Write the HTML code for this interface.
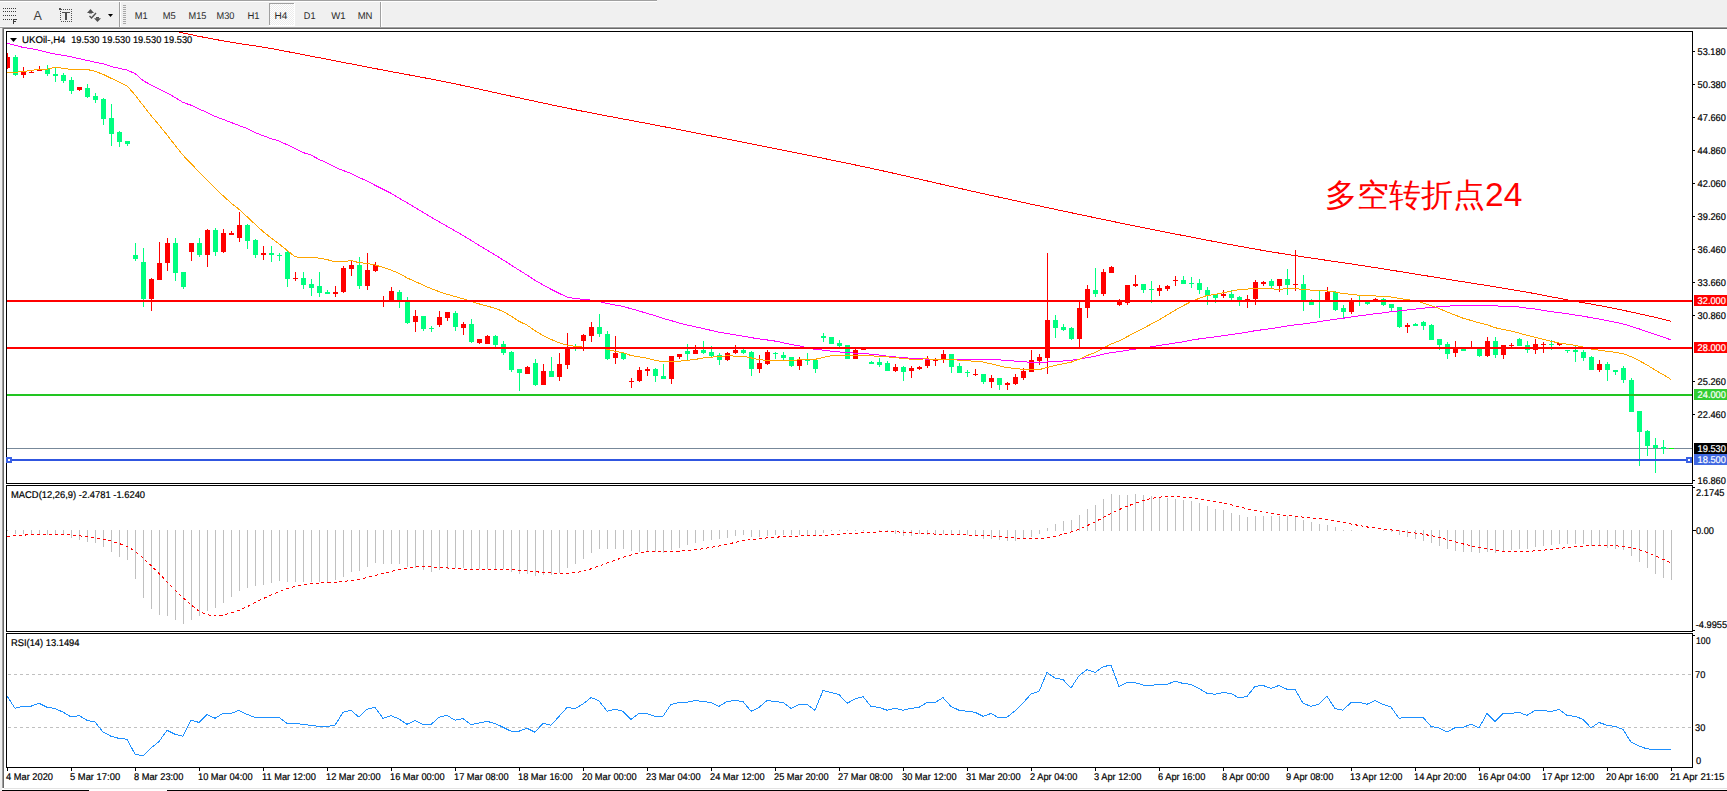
<!DOCTYPE html>
<html><head><meta charset="utf-8"><title>UKOil H4</title>
<style>
html,body{margin:0;padding:0;background:#fff;}
body{width:1727px;height:791px;overflow:hidden;}
svg{display:block;}
text{font-family:"Liberation Sans", Arial, sans-serif;}
</style></head><body>
<svg width="1727" height="791" viewBox="0 0 1727 791">
<rect x="0" y="0" width="1727" height="27" fill="#f0f0f0"/>
<rect x="0" y="0" width="657" height="1" fill="#a0a0a0"/>
<rect x="0" y="1" width="657" height="1" fill="#ffffff"/>
<rect x="0" y="26" width="1727" height="1" fill="#f8f8f8"/>
<rect x="0" y="27" width="1727" height="1" fill="#a0a0a0"/>
<rect x="0" y="28" width="2" height="763" fill="#f0f0f0"/>
<rect x="2" y="28" width="1" height="760" fill="#a0a0a0"/>
<rect x="3" y="28" width="1724" height="1" fill="#696969"/>
<rect x="3" y="29" width="1" height="759" fill="#696969"/>
<rect x="4" y="29" width="1723" height="759" fill="#ffffff"/>
<rect x="4" y="788" width="1723" height="1" fill="#e3e3e3"/>
<rect x="2" y="789" width="1725" height="1" fill="#ffffff"/>
<rect x="2" y="790" width="87" height="1" fill="#000"/>
<rect x="167" y="790" width="1560" height="1" fill="#000"/>
<rect x="3" y="8" width="1" height="1" fill="#3c3c3c"/>
<rect x="5" y="8" width="1" height="1" fill="#3c3c3c"/>
<rect x="7" y="8" width="1" height="1" fill="#3c3c3c"/>
<rect x="9" y="8" width="1" height="1" fill="#3c3c3c"/>
<rect x="11" y="8" width="1" height="1" fill="#3c3c3c"/>
<rect x="13" y="8" width="1" height="1" fill="#3c3c3c"/>
<rect x="15" y="8" width="1" height="1" fill="#3c3c3c"/>
<rect x="3" y="11" width="1" height="1" fill="#3c3c3c"/>
<rect x="5" y="11" width="1" height="1" fill="#3c3c3c"/>
<rect x="7" y="11" width="1" height="1" fill="#3c3c3c"/>
<rect x="9" y="11" width="1" height="1" fill="#3c3c3c"/>
<rect x="11" y="11" width="1" height="1" fill="#3c3c3c"/>
<rect x="13" y="11" width="1" height="1" fill="#3c3c3c"/>
<rect x="15" y="11" width="1" height="1" fill="#3c3c3c"/>
<rect x="3" y="15" width="1" height="1" fill="#3c3c3c"/>
<rect x="5" y="15" width="1" height="1" fill="#3c3c3c"/>
<rect x="7" y="15" width="1" height="1" fill="#3c3c3c"/>
<rect x="9" y="15" width="1" height="1" fill="#3c3c3c"/>
<rect x="11" y="15" width="1" height="1" fill="#3c3c3c"/>
<rect x="13" y="15" width="1" height="1" fill="#3c3c3c"/>
<rect x="15" y="15" width="1" height="1" fill="#3c3c3c"/>
<rect x="3" y="19" width="1" height="1" fill="#3c3c3c"/>
<rect x="5" y="19" width="1" height="1" fill="#3c3c3c"/>
<rect x="7" y="19" width="1" height="1" fill="#3c3c3c"/>
<rect x="9" y="19" width="1" height="1" fill="#3c3c3c"/>
<rect x="11" y="19" width="1" height="1" fill="#3c3c3c"/>
<rect x="13" y="19" width="1" height="5" fill="#3c3c3c"/>
<rect x="13" y="19" width="4" height="1" fill="#3c3c3c"/>
<rect x="13" y="21" width="3" height="1" fill="#3c3c3c"/>
<text x="33.6" y="20" font-size="12.5" fill="#3c3c3c" font-family="'Liberation Sans', Arial, sans-serif">A</text>
<rect x="61" y="9" width="1" height="1" fill="#505050"/>
<rect x="61" y="21" width="1" height="1" fill="#505050"/>
<rect x="63" y="9" width="1" height="1" fill="#505050"/>
<rect x="63" y="21" width="1" height="1" fill="#505050"/>
<rect x="65" y="9" width="1" height="1" fill="#505050"/>
<rect x="65" y="21" width="1" height="1" fill="#505050"/>
<rect x="67" y="9" width="1" height="1" fill="#505050"/>
<rect x="67" y="21" width="1" height="1" fill="#505050"/>
<rect x="69" y="9" width="1" height="1" fill="#505050"/>
<rect x="69" y="21" width="1" height="1" fill="#505050"/>
<rect x="71" y="9" width="1" height="1" fill="#505050"/>
<rect x="71" y="21" width="1" height="1" fill="#505050"/>
<rect x="60" y="11" width="1" height="1" fill="#505050"/>
<rect x="71" y="11" width="1" height="1" fill="#505050"/>
<rect x="60" y="13" width="1" height="1" fill="#505050"/>
<rect x="71" y="13" width="1" height="1" fill="#505050"/>
<rect x="60" y="15" width="1" height="1" fill="#505050"/>
<rect x="71" y="15" width="1" height="1" fill="#505050"/>
<rect x="60" y="17" width="1" height="1" fill="#505050"/>
<rect x="71" y="17" width="1" height="1" fill="#505050"/>
<rect x="60" y="19" width="1" height="1" fill="#505050"/>
<rect x="71" y="19" width="1" height="1" fill="#505050"/>
<rect x="59" y="8" width="2" height="2" fill="#505050"/>
<rect x="62" y="12" width="8" height="1" fill="#505050"/>
<rect x="65" y="12" width="2" height="8" fill="#505050"/>
<polygon points="87,13 90.5,9 94,13" fill="#505050"/>
<rect x="89" y="12" width="3" height="1.5" fill="#505050"/>
<polyline points="89.5,16 91.5,18 96,13" fill="none" stroke="#505050" stroke-width="1.4"/>
<rect x="96" y="17" width="3" height="1.5" fill="#505050"/>
<polygon points="94,18.3 101,18.3 97.5,22" fill="#505050"/>
<polygon points="108,14 113,14 110.5,17" fill="#000"/>
<rect x="119" y="2" width="1" height="25" fill="#a0a0a0"/>
<rect x="120" y="2" width="1" height="25" fill="#ffffff"/>
<rect x="380" y="2" width="1" height="25" fill="#a0a0a0"/>
<rect x="381" y="2" width="1" height="25" fill="#ffffff"/>
<rect x="123" y="5" width="3" height="1" fill="#a8a8a8"/>
<rect x="123" y="7" width="3" height="1" fill="#a8a8a8"/>
<rect x="123" y="9" width="3" height="1" fill="#a8a8a8"/>
<rect x="123" y="11" width="3" height="1" fill="#a8a8a8"/>
<rect x="123" y="13" width="3" height="1" fill="#a8a8a8"/>
<rect x="123" y="15" width="3" height="1" fill="#a8a8a8"/>
<rect x="123" y="17" width="3" height="1" fill="#a8a8a8"/>
<rect x="123" y="19" width="3" height="1" fill="#a8a8a8"/>
<rect x="123" y="21" width="3" height="1" fill="#a8a8a8"/>
<rect x="123" y="23" width="3" height="1" fill="#a8a8a8"/>
<defs><pattern id="chk" width="2" height="2" patternUnits="userSpaceOnUse"><rect width="2" height="2" fill="#ffffff"/><rect width="1" height="1" fill="#ececec"/><rect x="1" y="1" width="1" height="1" fill="#ececec"/></pattern></defs>
<rect x="270" y="4" width="24" height="21" fill="url(#chk)"/>
<rect x="269" y="3" width="1" height="22" fill="#a0a0a0"/>
<rect x="269" y="3" width="25" height="1" fill="#a0a0a0"/>
<rect x="294" y="3" width="1" height="23" fill="#ffffff"/>
<rect x="269" y="25" width="26" height="1" fill="#ffffff"/>
<text x="134.7" y="19" font-size="9.8" fill="#2a2a2a" textLength="12.9" lengthAdjust="spacingAndGlyphs" text-rendering="geometricPrecision" font-family="'Liberation Sans', Arial, sans-serif">M1</text>
<text x="162.7" y="19" font-size="9.8" fill="#2a2a2a" textLength="13.0" lengthAdjust="spacingAndGlyphs" text-rendering="geometricPrecision" font-family="'Liberation Sans', Arial, sans-serif">M5</text>
<text x="188.6" y="19" font-size="9.8" fill="#2a2a2a" textLength="17.9" lengthAdjust="spacingAndGlyphs" text-rendering="geometricPrecision" font-family="'Liberation Sans', Arial, sans-serif">M15</text>
<text x="216.6" y="19" font-size="9.8" fill="#2a2a2a" textLength="17.9" lengthAdjust="spacingAndGlyphs" text-rendering="geometricPrecision" font-family="'Liberation Sans', Arial, sans-serif">M30</text>
<text x="247.4" y="19" font-size="9.8" fill="#2a2a2a" textLength="12.1" lengthAdjust="spacingAndGlyphs" text-rendering="geometricPrecision" font-family="'Liberation Sans', Arial, sans-serif">H1</text>
<text x="274.5" y="19" font-size="9.8" fill="#2a2a2a" textLength="12.8" lengthAdjust="spacingAndGlyphs" text-rendering="geometricPrecision" font-family="'Liberation Sans', Arial, sans-serif">H4</text>
<text x="303.8" y="19" font-size="9.8" fill="#2a2a2a" textLength="11.7" lengthAdjust="spacingAndGlyphs" text-rendering="geometricPrecision" font-family="'Liberation Sans', Arial, sans-serif">D1</text>
<text x="331.3" y="19" font-size="9.8" fill="#2a2a2a" textLength="14.4" lengthAdjust="spacingAndGlyphs" text-rendering="geometricPrecision" font-family="'Liberation Sans', Arial, sans-serif">W1</text>
<text x="357.7" y="19" font-size="9.8" fill="#2a2a2a" textLength="14.8" lengthAdjust="spacingAndGlyphs" text-rendering="geometricPrecision" font-family="'Liberation Sans', Arial, sans-serif">MN</text>
<rect x="6.5" y="31.5" width="1686" height="452" fill="none" stroke="#000" stroke-width="1"/>
<rect x="6.5" y="485.5" width="1686" height="146" fill="none" stroke="#000" stroke-width="1"/>
<rect x="6.5" y="633.5" width="1686" height="134" fill="none" stroke="#000" stroke-width="1"/>
<defs><clipPath id="cm"><rect x="7" y="32" width="1685" height="451"/></clipPath><clipPath id="cd"><rect x="7" y="486" width="1685" height="145"/></clipPath><clipPath id="cr"><rect x="7" y="634" width="1685" height="133"/></clipPath></defs>
<rect x="7" y="448" width="1685" height="1" fill="#778899" shape-rendering="crispEdges"/>
<g clip-path="url(#cm)" shape-rendering="crispEdges">
<rect x="7" y="53" width="1" height="16" fill="#ff0000"/>
<rect x="5" y="57" width="5" height="11" fill="#ff0000"/>
<rect x="15" y="55" width="1" height="21" fill="#00ff7f"/>
<rect x="13" y="57" width="5" height="18" fill="#00ff7f"/>
<rect x="23" y="67" width="1" height="11" fill="#ff0000"/>
<rect x="21" y="72" width="5" height="3" fill="#ff0000"/>
<rect x="31" y="71" width="1" height="2" fill="#ff0000"/>
<rect x="29" y="72" width="5" height="1" fill="#ff0000"/>
<rect x="39" y="66" width="1" height="5" fill="#ff0000"/>
<rect x="37" y="70" width="5" height="1" fill="#ff0000"/>
<rect x="47" y="65" width="1" height="11" fill="#00ff7f"/>
<rect x="45" y="69" width="5" height="5" fill="#00ff7f"/>
<rect x="55" y="68" width="1" height="14" fill="#00ff7f"/>
<rect x="53" y="74" width="5" height="2" fill="#00ff7f"/>
<rect x="63" y="73" width="1" height="10" fill="#00ff7f"/>
<rect x="61" y="75" width="5" height="6" fill="#00ff7f"/>
<rect x="71" y="77" width="1" height="17" fill="#00ff7f"/>
<rect x="69" y="80" width="5" height="11" fill="#00ff7f"/>
<rect x="79" y="87" width="1" height="4" fill="#ff0000"/>
<rect x="77" y="87" width="5" height="3" fill="#ff0000"/>
<rect x="87" y="84" width="1" height="14" fill="#00ff7f"/>
<rect x="85" y="88" width="5" height="9" fill="#00ff7f"/>
<rect x="95" y="93" width="1" height="10" fill="#00ff7f"/>
<rect x="93" y="96" width="5" height="4" fill="#00ff7f"/>
<rect x="103" y="98" width="1" height="27" fill="#00ff7f"/>
<rect x="101" y="99" width="5" height="20" fill="#00ff7f"/>
<rect x="111" y="104" width="1" height="42" fill="#00ff7f"/>
<rect x="109" y="118" width="5" height="16" fill="#00ff7f"/>
<rect x="119" y="131" width="1" height="16" fill="#00ff7f"/>
<rect x="117" y="132" width="5" height="10" fill="#00ff7f"/>
<rect x="127" y="141" width="1" height="5" fill="#00ff7f"/>
<rect x="125" y="141" width="5" height="3" fill="#00ff7f"/>
<rect x="135" y="243" width="1" height="18" fill="#00ff7f"/>
<rect x="133" y="255" width="5" height="4" fill="#00ff7f"/>
<rect x="143" y="248" width="1" height="59" fill="#00ff7f"/>
<rect x="141" y="262" width="5" height="37" fill="#00ff7f"/>
<rect x="151" y="278" width="1" height="33" fill="#ff0000"/>
<rect x="149" y="279" width="5" height="20" fill="#ff0000"/>
<rect x="159" y="242" width="1" height="38" fill="#ff0000"/>
<rect x="157" y="263" width="5" height="17" fill="#ff0000"/>
<rect x="167" y="238" width="1" height="33" fill="#ff0000"/>
<rect x="165" y="243" width="5" height="20" fill="#ff0000"/>
<rect x="175" y="238" width="1" height="43" fill="#00ff7f"/>
<rect x="173" y="243" width="5" height="30" fill="#00ff7f"/>
<rect x="183" y="272" width="1" height="17" fill="#00ff7f"/>
<rect x="181" y="272" width="5" height="15" fill="#00ff7f"/>
<rect x="191" y="243" width="1" height="18" fill="#ff0000"/>
<rect x="189" y="243" width="5" height="9" fill="#ff0000"/>
<rect x="199" y="238" width="1" height="19" fill="#00ff7f"/>
<rect x="197" y="243" width="5" height="12" fill="#00ff7f"/>
<rect x="207" y="229" width="1" height="38" fill="#ff0000"/>
<rect x="205" y="230" width="5" height="25" fill="#ff0000"/>
<rect x="215" y="228" width="1" height="28" fill="#00ff7f"/>
<rect x="213" y="230" width="5" height="22" fill="#00ff7f"/>
<rect x="223" y="229" width="1" height="24" fill="#ff0000"/>
<rect x="221" y="233" width="5" height="19" fill="#ff0000"/>
<rect x="231" y="231" width="1" height="4" fill="#ff0000"/>
<rect x="229" y="233" width="5" height="2" fill="#ff0000"/>
<rect x="239" y="212" width="1" height="30" fill="#ff0000"/>
<rect x="237" y="225" width="5" height="13" fill="#ff0000"/>
<rect x="247" y="224" width="1" height="25" fill="#00ff7f"/>
<rect x="245" y="225" width="5" height="16" fill="#00ff7f"/>
<rect x="255" y="239" width="1" height="19" fill="#00ff7f"/>
<rect x="253" y="240" width="5" height="15" fill="#00ff7f"/>
<rect x="263" y="246" width="1" height="14" fill="#ff0000"/>
<rect x="261" y="253" width="5" height="2" fill="#ff0000"/>
<rect x="271" y="246" width="1" height="16" fill="#00ff7f"/>
<rect x="269" y="253" width="5" height="2" fill="#00ff7f"/>
<rect x="279" y="253" width="1" height="8" fill="#00ff7f"/>
<rect x="277" y="255" width="5" height="1" fill="#00ff7f"/>
<rect x="287" y="250" width="1" height="37" fill="#00ff7f"/>
<rect x="285" y="252" width="5" height="27" fill="#00ff7f"/>
<rect x="295" y="272" width="1" height="9" fill="#ff0000"/>
<rect x="293" y="278" width="5" height="1" fill="#ff0000"/>
<rect x="303" y="272" width="1" height="17" fill="#00ff7f"/>
<rect x="301" y="278" width="5" height="7" fill="#00ff7f"/>
<rect x="311" y="279" width="1" height="17" fill="#00ff7f"/>
<rect x="309" y="284" width="5" height="4" fill="#00ff7f"/>
<rect x="319" y="272" width="1" height="25" fill="#00ff7f"/>
<rect x="317" y="286" width="5" height="7" fill="#00ff7f"/>
<rect x="327" y="290" width="1" height="4" fill="#00ff7f"/>
<rect x="325" y="292" width="5" height="2" fill="#00ff7f"/>
<rect x="335" y="286" width="1" height="11" fill="#ff0000"/>
<rect x="333" y="292" width="5" height="2" fill="#ff0000"/>
<rect x="343" y="266" width="1" height="27" fill="#ff0000"/>
<rect x="341" y="268" width="5" height="24" fill="#ff0000"/>
<rect x="351" y="261" width="1" height="15" fill="#ff0000"/>
<rect x="349" y="265" width="5" height="4" fill="#ff0000"/>
<rect x="359" y="257" width="1" height="32" fill="#00ff7f"/>
<rect x="357" y="265" width="5" height="21" fill="#00ff7f"/>
<rect x="367" y="253" width="1" height="37" fill="#ff0000"/>
<rect x="365" y="270" width="5" height="16" fill="#ff0000"/>
<rect x="375" y="262" width="1" height="10" fill="#ff0000"/>
<rect x="373" y="265" width="5" height="6" fill="#ff0000"/>
<rect x="383" y="296" width="1" height="11" fill="#ff0000"/>
<rect x="381" y="300" width="5" height="2" fill="#ff0000"/>
<rect x="391" y="287" width="1" height="14" fill="#ff0000"/>
<rect x="389" y="291" width="5" height="10" fill="#ff0000"/>
<rect x="399" y="290" width="1" height="18" fill="#00ff7f"/>
<rect x="397" y="292" width="5" height="8" fill="#00ff7f"/>
<rect x="407" y="297" width="1" height="27" fill="#00ff7f"/>
<rect x="405" y="301" width="5" height="22" fill="#00ff7f"/>
<rect x="415" y="310" width="1" height="22" fill="#ff0000"/>
<rect x="413" y="316" width="5" height="6" fill="#ff0000"/>
<rect x="423" y="316" width="1" height="15" fill="#00ff7f"/>
<rect x="421" y="316" width="5" height="13" fill="#00ff7f"/>
<rect x="431" y="326" width="1" height="6" fill="#00ff7f"/>
<rect x="429" y="328" width="5" height="1" fill="#00ff7f"/>
<rect x="439" y="311" width="1" height="16" fill="#ff0000"/>
<rect x="437" y="317" width="5" height="8" fill="#ff0000"/>
<rect x="447" y="312" width="1" height="9" fill="#ff0000"/>
<rect x="445" y="312" width="5" height="6" fill="#ff0000"/>
<rect x="455" y="311" width="1" height="20" fill="#00ff7f"/>
<rect x="453" y="313" width="5" height="14" fill="#00ff7f"/>
<rect x="463" y="322" width="1" height="13" fill="#ff0000"/>
<rect x="461" y="324" width="5" height="4" fill="#ff0000"/>
<rect x="471" y="319" width="1" height="24" fill="#00ff7f"/>
<rect x="469" y="324" width="5" height="18" fill="#00ff7f"/>
<rect x="479" y="339" width="1" height="5" fill="#ff0000"/>
<rect x="477" y="339" width="5" height="4" fill="#ff0000"/>
<rect x="487" y="335" width="1" height="9" fill="#ff0000"/>
<rect x="485" y="336" width="5" height="8" fill="#ff0000"/>
<rect x="495" y="335" width="1" height="12" fill="#00ff7f"/>
<rect x="493" y="336" width="5" height="9" fill="#00ff7f"/>
<rect x="503" y="341" width="1" height="14" fill="#00ff7f"/>
<rect x="501" y="344" width="5" height="9" fill="#00ff7f"/>
<rect x="511" y="351" width="1" height="21" fill="#00ff7f"/>
<rect x="509" y="352" width="5" height="18" fill="#00ff7f"/>
<rect x="519" y="369" width="1" height="22" fill="#00ff7f"/>
<rect x="517" y="369" width="5" height="4" fill="#00ff7f"/>
<rect x="527" y="366" width="1" height="8" fill="#ff0000"/>
<rect x="525" y="367" width="5" height="7" fill="#ff0000"/>
<rect x="535" y="359" width="1" height="27" fill="#00ff7f"/>
<rect x="533" y="363" width="5" height="22" fill="#00ff7f"/>
<rect x="543" y="364" width="1" height="21" fill="#ff0000"/>
<rect x="541" y="371" width="5" height="14" fill="#ff0000"/>
<rect x="551" y="357" width="1" height="20" fill="#00ff7f"/>
<rect x="549" y="371" width="5" height="6" fill="#00ff7f"/>
<rect x="559" y="353" width="1" height="28" fill="#ff0000"/>
<rect x="557" y="364" width="5" height="13" fill="#ff0000"/>
<rect x="567" y="333" width="1" height="36" fill="#ff0000"/>
<rect x="565" y="347" width="5" height="18" fill="#ff0000"/>
<rect x="575" y="344" width="1" height="7" fill="#00ff7f"/>
<rect x="573" y="346" width="5" height="2" fill="#00ff7f"/>
<rect x="583" y="334" width="1" height="17" fill="#ff0000"/>
<rect x="581" y="335" width="5" height="6" fill="#ff0000"/>
<rect x="591" y="322" width="1" height="20" fill="#ff0000"/>
<rect x="589" y="327" width="5" height="9" fill="#ff0000"/>
<rect x="599" y="314" width="1" height="23" fill="#00ff7f"/>
<rect x="597" y="327" width="5" height="7" fill="#00ff7f"/>
<rect x="607" y="331" width="1" height="29" fill="#00ff7f"/>
<rect x="605" y="334" width="5" height="25" fill="#00ff7f"/>
<rect x="615" y="336" width="1" height="28" fill="#ff0000"/>
<rect x="613" y="353" width="5" height="5" fill="#ff0000"/>
<rect x="623" y="352" width="1" height="8" fill="#00ff7f"/>
<rect x="621" y="353" width="5" height="6" fill="#00ff7f"/>
<rect x="631" y="378" width="1" height="10" fill="#ff0000"/>
<rect x="629" y="381" width="5" height="1" fill="#ff0000"/>
<rect x="639" y="367" width="1" height="15" fill="#ff0000"/>
<rect x="637" y="370" width="5" height="11" fill="#ff0000"/>
<rect x="647" y="367" width="1" height="9" fill="#ff0000"/>
<rect x="645" y="369" width="5" height="2" fill="#ff0000"/>
<rect x="655" y="368" width="1" height="14" fill="#00ff7f"/>
<rect x="653" y="369" width="5" height="7" fill="#00ff7f"/>
<rect x="663" y="364" width="1" height="15" fill="#00ff7f"/>
<rect x="661" y="376" width="5" height="3" fill="#00ff7f"/>
<rect x="671" y="356" width="1" height="28" fill="#ff0000"/>
<rect x="669" y="356" width="5" height="23" fill="#ff0000"/>
<rect x="679" y="354" width="1" height="5" fill="#ff0000"/>
<rect x="677" y="354" width="5" height="3" fill="#ff0000"/>
<rect x="687" y="344" width="1" height="16" fill="#00ff7f"/>
<rect x="685" y="351" width="5" height="3" fill="#00ff7f"/>
<rect x="695" y="345" width="1" height="9" fill="#ff0000"/>
<rect x="693" y="350" width="5" height="4" fill="#ff0000"/>
<rect x="703" y="341" width="1" height="13" fill="#00ff7f"/>
<rect x="701" y="350" width="5" height="3" fill="#00ff7f"/>
<rect x="711" y="346" width="1" height="11" fill="#00ff7f"/>
<rect x="709" y="352" width="5" height="4" fill="#00ff7f"/>
<rect x="719" y="353" width="1" height="12" fill="#00ff7f"/>
<rect x="717" y="355" width="5" height="5" fill="#00ff7f"/>
<rect x="727" y="352" width="1" height="9" fill="#ff0000"/>
<rect x="725" y="353" width="5" height="7" fill="#ff0000"/>
<rect x="735" y="345" width="1" height="9" fill="#ff0000"/>
<rect x="733" y="350" width="5" height="3" fill="#ff0000"/>
<rect x="743" y="349" width="1" height="5" fill="#00ff7f"/>
<rect x="741" y="350" width="5" height="3" fill="#00ff7f"/>
<rect x="751" y="351" width="1" height="25" fill="#00ff7f"/>
<rect x="749" y="352" width="5" height="17" fill="#00ff7f"/>
<rect x="759" y="355" width="1" height="18" fill="#ff0000"/>
<rect x="757" y="363" width="5" height="6" fill="#ff0000"/>
<rect x="767" y="350" width="1" height="15" fill="#ff0000"/>
<rect x="765" y="352" width="5" height="12" fill="#ff0000"/>
<rect x="775" y="352" width="1" height="7" fill="#00ff7f"/>
<rect x="773" y="353" width="5" height="1" fill="#00ff7f"/>
<rect x="783" y="352" width="1" height="8" fill="#00ff7f"/>
<rect x="781" y="355" width="5" height="3" fill="#00ff7f"/>
<rect x="791" y="357" width="1" height="10" fill="#00ff7f"/>
<rect x="789" y="357" width="5" height="9" fill="#00ff7f"/>
<rect x="799" y="357" width="1" height="13" fill="#ff0000"/>
<rect x="797" y="360" width="5" height="6" fill="#ff0000"/>
<rect x="807" y="353" width="1" height="12" fill="#00ff7f"/>
<rect x="805" y="360" width="5" height="1" fill="#00ff7f"/>
<rect x="815" y="360" width="1" height="13" fill="#00ff7f"/>
<rect x="813" y="360" width="5" height="9" fill="#00ff7f"/>
<rect x="823" y="333" width="1" height="9" fill="#00ff7f"/>
<rect x="821" y="336" width="5" height="2" fill="#00ff7f"/>
<rect x="831" y="337" width="1" height="7" fill="#00ff7f"/>
<rect x="829" y="337" width="5" height="7" fill="#00ff7f"/>
<rect x="839" y="340" width="1" height="7" fill="#00ff7f"/>
<rect x="837" y="343" width="5" height="3" fill="#00ff7f"/>
<rect x="847" y="345" width="1" height="14" fill="#00ff7f"/>
<rect x="845" y="345" width="5" height="14" fill="#00ff7f"/>
<rect x="855" y="349" width="1" height="10" fill="#ff0000"/>
<rect x="853" y="350" width="5" height="9" fill="#ff0000"/>
<rect x="863" y="348" width="1" height="2" fill="#ff0000"/>
<rect x="861" y="348" width="5" height="2" fill="#ff0000"/>
<rect x="871" y="361" width="1" height="3" fill="#00ff7f"/>
<rect x="869" y="362" width="5" height="2" fill="#00ff7f"/>
<rect x="879" y="358" width="1" height="9" fill="#00ff7f"/>
<rect x="877" y="362" width="5" height="3" fill="#00ff7f"/>
<rect x="887" y="361" width="1" height="10" fill="#00ff7f"/>
<rect x="885" y="363" width="5" height="8" fill="#00ff7f"/>
<rect x="895" y="364" width="1" height="8" fill="#ff0000"/>
<rect x="893" y="367" width="5" height="4" fill="#ff0000"/>
<rect x="903" y="366" width="1" height="15" fill="#00ff7f"/>
<rect x="901" y="367" width="5" height="5" fill="#00ff7f"/>
<rect x="911" y="366" width="1" height="12" fill="#ff0000"/>
<rect x="909" y="368" width="5" height="3" fill="#ff0000"/>
<rect x="919" y="366" width="1" height="4" fill="#ff0000"/>
<rect x="917" y="367" width="5" height="2" fill="#ff0000"/>
<rect x="927" y="356" width="1" height="12" fill="#ff0000"/>
<rect x="925" y="359" width="5" height="7" fill="#ff0000"/>
<rect x="935" y="358" width="1" height="8" fill="#ff0000"/>
<rect x="933" y="360" width="5" height="1" fill="#ff0000"/>
<rect x="943" y="350" width="1" height="13" fill="#ff0000"/>
<rect x="941" y="354" width="5" height="6" fill="#ff0000"/>
<rect x="951" y="354" width="1" height="19" fill="#00ff7f"/>
<rect x="949" y="354" width="5" height="13" fill="#00ff7f"/>
<rect x="959" y="363" width="1" height="10" fill="#00ff7f"/>
<rect x="957" y="366" width="5" height="7" fill="#00ff7f"/>
<rect x="967" y="370" width="1" height="7" fill="#00ff7f"/>
<rect x="965" y="372" width="5" height="1" fill="#00ff7f"/>
<rect x="975" y="369" width="1" height="7" fill="#ff0000"/>
<rect x="973" y="374" width="5" height="1" fill="#ff0000"/>
<rect x="983" y="374" width="1" height="10" fill="#00ff7f"/>
<rect x="981" y="374" width="5" height="8" fill="#00ff7f"/>
<rect x="991" y="375" width="1" height="13" fill="#ff0000"/>
<rect x="989" y="378" width="5" height="4" fill="#ff0000"/>
<rect x="999" y="378" width="1" height="12" fill="#00ff7f"/>
<rect x="997" y="378" width="5" height="7" fill="#00ff7f"/>
<rect x="1007" y="382" width="1" height="8" fill="#ff0000"/>
<rect x="1005" y="383" width="5" height="2" fill="#ff0000"/>
<rect x="1015" y="374" width="1" height="11" fill="#ff0000"/>
<rect x="1013" y="377" width="5" height="7" fill="#ff0000"/>
<rect x="1023" y="368" width="1" height="12" fill="#ff0000"/>
<rect x="1021" y="371" width="5" height="7" fill="#ff0000"/>
<rect x="1031" y="350" width="1" height="22" fill="#ff0000"/>
<rect x="1029" y="360" width="5" height="12" fill="#ff0000"/>
<rect x="1039" y="354" width="1" height="11" fill="#ff0000"/>
<rect x="1037" y="357" width="5" height="4" fill="#ff0000"/>
<rect x="1047" y="253" width="1" height="121" fill="#ff0000"/>
<rect x="1045" y="320" width="5" height="38" fill="#ff0000"/>
<rect x="1055" y="315" width="1" height="23" fill="#00ff7f"/>
<rect x="1053" y="320" width="5" height="8" fill="#00ff7f"/>
<rect x="1063" y="324" width="1" height="7" fill="#00ff7f"/>
<rect x="1061" y="327" width="5" height="3" fill="#00ff7f"/>
<rect x="1071" y="327" width="1" height="13" fill="#00ff7f"/>
<rect x="1069" y="328" width="5" height="11" fill="#00ff7f"/>
<rect x="1079" y="302" width="1" height="45" fill="#ff0000"/>
<rect x="1077" y="308" width="5" height="31" fill="#ff0000"/>
<rect x="1087" y="285" width="1" height="33" fill="#ff0000"/>
<rect x="1085" y="289" width="5" height="19" fill="#ff0000"/>
<rect x="1095" y="268" width="1" height="29" fill="#00ff7f"/>
<rect x="1093" y="290" width="5" height="4" fill="#00ff7f"/>
<rect x="1103" y="269" width="1" height="27" fill="#ff0000"/>
<rect x="1101" y="272" width="5" height="22" fill="#ff0000"/>
<rect x="1111" y="266" width="1" height="7" fill="#ff0000"/>
<rect x="1109" y="267" width="5" height="6" fill="#ff0000"/>
<rect x="1119" y="299" width="1" height="7" fill="#ff0000"/>
<rect x="1117" y="300" width="5" height="5" fill="#ff0000"/>
<rect x="1127" y="285" width="1" height="20" fill="#ff0000"/>
<rect x="1125" y="285" width="5" height="18" fill="#ff0000"/>
<rect x="1135" y="275" width="1" height="12" fill="#ff0000"/>
<rect x="1133" y="284" width="5" height="2" fill="#ff0000"/>
<rect x="1143" y="284" width="1" height="9" fill="#00ff7f"/>
<rect x="1141" y="284" width="5" height="6" fill="#00ff7f"/>
<rect x="1151" y="281" width="1" height="22" fill="#00ff7f"/>
<rect x="1149" y="289" width="5" height="1" fill="#00ff7f"/>
<rect x="1159" y="285" width="1" height="11" fill="#ff0000"/>
<rect x="1157" y="288" width="5" height="3" fill="#ff0000"/>
<rect x="1167" y="285" width="1" height="6" fill="#ff0000"/>
<rect x="1165" y="286" width="5" height="3" fill="#ff0000"/>
<rect x="1175" y="276" width="1" height="10" fill="#ff0000"/>
<rect x="1173" y="280" width="5" height="1" fill="#ff0000"/>
<rect x="1183" y="276" width="1" height="8" fill="#00ff7f"/>
<rect x="1181" y="280" width="5" height="4" fill="#00ff7f"/>
<rect x="1191" y="277" width="1" height="11" fill="#00ff7f"/>
<rect x="1189" y="283" width="5" height="1" fill="#00ff7f"/>
<rect x="1199" y="279" width="1" height="15" fill="#00ff7f"/>
<rect x="1197" y="283" width="5" height="7" fill="#00ff7f"/>
<rect x="1207" y="287" width="1" height="18" fill="#00ff7f"/>
<rect x="1205" y="290" width="5" height="6" fill="#00ff7f"/>
<rect x="1215" y="294" width="1" height="9" fill="#00ff7f"/>
<rect x="1213" y="294" width="5" height="4" fill="#00ff7f"/>
<rect x="1223" y="290" width="1" height="8" fill="#ff0000"/>
<rect x="1221" y="294" width="5" height="2" fill="#ff0000"/>
<rect x="1231" y="290" width="1" height="10" fill="#00ff7f"/>
<rect x="1229" y="294" width="5" height="4" fill="#00ff7f"/>
<rect x="1239" y="296" width="1" height="10" fill="#00ff7f"/>
<rect x="1237" y="297" width="5" height="3" fill="#00ff7f"/>
<rect x="1247" y="295" width="1" height="13" fill="#ff0000"/>
<rect x="1245" y="299" width="5" height="2" fill="#ff0000"/>
<rect x="1255" y="280" width="1" height="25" fill="#ff0000"/>
<rect x="1253" y="282" width="5" height="17" fill="#ff0000"/>
<rect x="1263" y="281" width="1" height="5" fill="#ff0000"/>
<rect x="1261" y="282" width="5" height="2" fill="#ff0000"/>
<rect x="1271" y="279" width="1" height="9" fill="#00ff7f"/>
<rect x="1269" y="281" width="5" height="5" fill="#00ff7f"/>
<rect x="1279" y="279" width="1" height="13" fill="#ff0000"/>
<rect x="1277" y="279" width="5" height="7" fill="#ff0000"/>
<rect x="1287" y="269" width="1" height="26" fill="#00ff7f"/>
<rect x="1285" y="279" width="5" height="6" fill="#00ff7f"/>
<rect x="1295" y="250" width="1" height="41" fill="#ff0000"/>
<rect x="1293" y="284" width="5" height="1" fill="#ff0000"/>
<rect x="1303" y="275" width="1" height="36" fill="#00ff7f"/>
<rect x="1301" y="284" width="5" height="16" fill="#00ff7f"/>
<rect x="1311" y="299" width="1" height="6" fill="#00ff7f"/>
<rect x="1309" y="301" width="5" height="4" fill="#00ff7f"/>
<rect x="1319" y="291" width="1" height="27" fill="#00ff7f"/>
<rect x="1317" y="300" width="5" height="2" fill="#00ff7f"/>
<rect x="1327" y="287" width="1" height="14" fill="#ff0000"/>
<rect x="1325" y="292" width="5" height="9" fill="#ff0000"/>
<rect x="1335" y="291" width="1" height="20" fill="#00ff7f"/>
<rect x="1333" y="292" width="5" height="18" fill="#00ff7f"/>
<rect x="1343" y="305" width="1" height="13" fill="#00ff7f"/>
<rect x="1341" y="308" width="5" height="4" fill="#00ff7f"/>
<rect x="1351" y="298" width="1" height="16" fill="#ff0000"/>
<rect x="1349" y="302" width="5" height="10" fill="#ff0000"/>
<rect x="1359" y="296" width="1" height="10" fill="#00ff7f"/>
<rect x="1357" y="300" width="5" height="2" fill="#00ff7f"/>
<rect x="1367" y="302" width="1" height="3" fill="#00ff7f"/>
<rect x="1365" y="302" width="5" height="2" fill="#00ff7f"/>
<rect x="1375" y="298" width="1" height="3" fill="#ff0000"/>
<rect x="1373" y="299" width="5" height="2" fill="#ff0000"/>
<rect x="1383" y="298" width="1" height="8" fill="#00ff7f"/>
<rect x="1381" y="299" width="5" height="6" fill="#00ff7f"/>
<rect x="1391" y="304" width="1" height="7" fill="#00ff7f"/>
<rect x="1389" y="304" width="5" height="4" fill="#00ff7f"/>
<rect x="1399" y="307" width="1" height="21" fill="#00ff7f"/>
<rect x="1397" y="307" width="5" height="20" fill="#00ff7f"/>
<rect x="1407" y="323" width="1" height="10" fill="#ff0000"/>
<rect x="1405" y="325" width="5" height="2" fill="#ff0000"/>
<rect x="1415" y="323" width="1" height="3" fill="#00ff7f"/>
<rect x="1413" y="324" width="5" height="2" fill="#00ff7f"/>
<rect x="1423" y="321" width="1" height="9" fill="#00ff7f"/>
<rect x="1421" y="322" width="5" height="4" fill="#00ff7f"/>
<rect x="1431" y="324" width="1" height="16" fill="#00ff7f"/>
<rect x="1429" y="325" width="5" height="15" fill="#00ff7f"/>
<rect x="1439" y="339" width="1" height="11" fill="#00ff7f"/>
<rect x="1437" y="339" width="5" height="6" fill="#00ff7f"/>
<rect x="1447" y="342" width="1" height="17" fill="#00ff7f"/>
<rect x="1445" y="344" width="5" height="10" fill="#00ff7f"/>
<rect x="1455" y="341" width="1" height="16" fill="#ff0000"/>
<rect x="1453" y="348" width="5" height="5" fill="#ff0000"/>
<rect x="1463" y="348" width="1" height="3" fill="#00ff7f"/>
<rect x="1461" y="348" width="5" height="3" fill="#00ff7f"/>
<rect x="1471" y="341" width="1" height="7" fill="#ff0000"/>
<rect x="1469" y="347" width="5" height="1" fill="#ff0000"/>
<rect x="1479" y="349" width="1" height="8" fill="#00ff7f"/>
<rect x="1477" y="349" width="5" height="7" fill="#00ff7f"/>
<rect x="1487" y="337" width="1" height="20" fill="#ff0000"/>
<rect x="1485" y="341" width="5" height="15" fill="#ff0000"/>
<rect x="1495" y="337" width="1" height="21" fill="#00ff7f"/>
<rect x="1493" y="341" width="5" height="14" fill="#00ff7f"/>
<rect x="1503" y="345" width="1" height="14" fill="#ff0000"/>
<rect x="1501" y="345" width="5" height="10" fill="#ff0000"/>
<rect x="1511" y="343" width="1" height="4" fill="#ff0000"/>
<rect x="1509" y="345" width="5" height="1" fill="#ff0000"/>
<rect x="1519" y="338" width="1" height="8" fill="#00ff7f"/>
<rect x="1517" y="339" width="5" height="7" fill="#00ff7f"/>
<rect x="1527" y="341" width="1" height="12" fill="#00ff7f"/>
<rect x="1525" y="345" width="5" height="5" fill="#00ff7f"/>
<rect x="1535" y="339" width="1" height="15" fill="#ff0000"/>
<rect x="1533" y="344" width="5" height="6" fill="#ff0000"/>
<rect x="1543" y="342" width="1" height="11" fill="#ff0000"/>
<rect x="1541" y="344" width="5" height="1" fill="#ff0000"/>
<rect x="1551" y="340" width="1" height="10" fill="#00ff7f"/>
<rect x="1549" y="344" width="5" height="1" fill="#00ff7f"/>
<rect x="1559" y="343" width="1" height="3" fill="#ff0000"/>
<rect x="1557" y="343" width="5" height="2" fill="#ff0000"/>
<rect x="1567" y="350" width="1" height="3" fill="#00ff7f"/>
<rect x="1565" y="350" width="5" height="1" fill="#00ff7f"/>
<rect x="1575" y="346" width="1" height="16" fill="#00ff7f"/>
<rect x="1573" y="350" width="5" height="2" fill="#00ff7f"/>
<rect x="1583" y="350" width="1" height="11" fill="#00ff7f"/>
<rect x="1581" y="352" width="5" height="6" fill="#00ff7f"/>
<rect x="1591" y="356" width="1" height="14" fill="#00ff7f"/>
<rect x="1589" y="357" width="5" height="13" fill="#00ff7f"/>
<rect x="1599" y="360" width="1" height="12" fill="#ff0000"/>
<rect x="1597" y="364" width="5" height="6" fill="#ff0000"/>
<rect x="1607" y="362" width="1" height="19" fill="#00ff7f"/>
<rect x="1605" y="364" width="5" height="6" fill="#00ff7f"/>
<rect x="1615" y="370" width="1" height="5" fill="#00ff7f"/>
<rect x="1613" y="370" width="5" height="2" fill="#00ff7f"/>
<rect x="1623" y="366" width="1" height="17" fill="#00ff7f"/>
<rect x="1621" y="368" width="5" height="12" fill="#00ff7f"/>
<rect x="1631" y="378" width="1" height="34" fill="#00ff7f"/>
<rect x="1629" y="380" width="5" height="32" fill="#00ff7f"/>
<rect x="1639" y="411" width="1" height="55" fill="#00ff7f"/>
<rect x="1637" y="411" width="5" height="21" fill="#00ff7f"/>
<rect x="1647" y="430" width="1" height="26" fill="#00ff7f"/>
<rect x="1645" y="431" width="5" height="15" fill="#00ff7f"/>
<rect x="1655" y="438" width="1" height="35" fill="#00ff7f"/>
<rect x="1653" y="445" width="5" height="3" fill="#00ff7f"/>
<rect x="1663" y="440" width="1" height="14" fill="#00ff7f"/>
<rect x="1661" y="447" width="5" height="2" fill="#00ff7f"/>
<rect x="1669" y="448" width="5" height="1" fill="#00ff00"/>
</g>
<g clip-path="url(#cm)" shape-rendering="crispEdges">
<polyline points="167.00,29.34 175.00,31.20 183.00,32.98 191.00,34.69 199.00,36.32 207.00,37.88 215.00,39.38 223.00,40.82 231.00,42.19 239.00,43.52 247.00,44.72 255.00,45.84 263.00,47.09 271.00,48.49 279.00,49.97 287.00,51.51 295.00,53.08 303.00,54.65 311.00,56.18 319.00,57.71 327.00,59.25 335.00,60.79 343.00,62.34 351.00,63.89 359.00,65.44 367.00,66.99 375.00,68.53 383.00,70.06 391.00,71.56 399.00,73.05 407.00,74.54 415.00,76.03 423.00,77.53 431.00,79.05 439.00,80.60 447.00,82.20 455.00,83.84 463.00,85.53 471.00,87.27 479.00,89.02 487.00,90.80 495.00,92.58 503.00,94.35 511.00,96.11 519.00,97.84 527.00,99.57 535.00,101.30 543.00,103.03 551.00,104.74 559.00,106.43 567.00,108.09 575.00,109.71 583.00,111.30 591.00,112.86 599.00,114.41 607.00,115.93 615.00,117.45 623.00,118.95 631.00,120.46 639.00,121.96 647.00,123.47 655.00,124.99 663.00,126.52 671.00,128.07 679.00,129.63 687.00,131.20 695.00,132.77 703.00,134.34 711.00,135.91 719.00,137.49 727.00,139.08 735.00,140.67 743.00,142.26 751.00,143.85 759.00,145.45 767.00,147.06 775.00,148.66 783.00,150.27 791.00,151.87 799.00,153.47 807.00,155.07 815.00,156.68 823.00,158.30 831.00,159.93 839.00,161.56 847.00,163.22 855.00,164.89 863.00,166.57 871.00,168.28 879.00,170.01 887.00,171.78 895.00,173.57 903.00,175.38 911.00,177.21 919.00,179.05 927.00,180.90 935.00,182.74 943.00,184.58 951.00,186.42 959.00,188.23 967.00,190.03 975.00,191.81 983.00,193.58 991.00,195.35 999.00,197.12 1007.00,198.88 1015.00,200.64 1023.00,202.39 1031.00,204.13 1039.00,205.86 1047.00,207.58 1055.00,209.30 1063.00,211.00 1071.00,212.70 1079.00,214.38 1087.00,216.06 1095.00,217.74 1103.00,219.41 1111.00,221.07 1119.00,222.72 1127.00,224.36 1135.00,225.99 1143.00,227.60 1151.00,229.21 1159.00,230.80 1167.00,232.37 1175.00,233.93 1183.00,235.49 1191.00,237.05 1199.00,238.61 1207.00,240.15 1215.00,241.68 1223.00,243.20 1231.00,244.69 1239.00,246.17 1247.00,247.62 1255.00,249.04 1263.00,250.43 1271.00,251.78 1279.00,253.10 1287.00,254.38 1295.00,255.62 1303.00,256.83 1311.00,258.03 1319.00,259.21 1327.00,260.38 1335.00,261.55 1343.00,262.72 1351.00,263.91 1359.00,265.11 1367.00,266.33 1375.00,267.58 1383.00,268.85 1391.00,270.12 1399.00,271.40 1407.00,272.68 1415.00,273.97 1423.00,275.27 1431.00,276.57 1439.00,277.87 1447.00,279.16 1455.00,280.45 1463.00,281.73 1471.00,283.00 1479.00,284.27 1487.00,285.54 1495.00,286.82 1503.00,288.12 1511.00,289.45 1519.00,290.80 1527.00,292.19 1535.00,293.64 1543.00,295.17 1551.00,296.73 1559.00,298.29 1567.00,299.81 1575.00,301.26 1583.00,302.66 1591.00,304.07 1599.00,305.50 1607.00,307.01 1615.00,308.60 1623.00,310.25 1631.00,311.95 1639.00,313.70 1647.00,315.49 1655.00,317.34 1663.00,319.24 1671.00,321.20" fill="none" stroke="#ff0000" stroke-width="1"/>
<polyline points="7.00,43.30 15.00,45.30 23.00,47.40 31.00,48.60 39.00,50.30 47.00,52.30 55.00,54.00 63.00,55.30 71.00,56.80 79.00,58.60 87.00,60.40 95.00,62.30 103.00,63.60 111.00,66.50 119.00,68.30 127.00,70.10 135.00,73.50 143.00,80.60 151.00,85.00 159.00,89.00 167.00,92.80 175.00,97.40 183.00,102.40 191.00,105.20 199.00,109.10 207.00,112.30 215.00,116.40 223.00,119.40 231.00,122.40 239.00,125.50 247.00,128.50 255.00,132.60 263.00,135.60 271.00,138.60 279.00,141.00 287.00,144.70 295.00,148.40 303.00,152.50 311.00,155.10 319.00,159.40 327.00,162.90 335.00,167.20 343.00,170.50 351.00,173.30 359.00,177.40 367.00,181.10 375.00,185.20 383.00,189.20 391.00,193.30 399.00,198.04 407.00,202.78 415.00,207.56 423.00,212.35 431.00,217.14 439.00,221.65 447.00,226.29 455.00,230.87 463.00,235.45 471.00,240.36 479.00,245.25 487.00,250.02 495.00,254.91 503.00,259.85 511.00,264.93 519.00,270.13 527.00,275.04 535.00,280.23 543.00,284.82 551.00,289.23 559.00,293.27 567.00,296.97 575.00,298.59 583.00,299.24 591.00,300.11 599.00,301.41 607.00,303.52 615.00,304.98 623.00,306.29 631.00,308.80 639.00,310.89 647.00,313.41 655.00,315.68 663.00,318.33 671.00,320.57 679.00,322.91 687.00,324.97 695.00,326.70 703.00,328.51 711.00,330.35 719.00,332.23 727.00,333.58 735.00,334.89 743.00,336.13 751.00,337.61 759.00,338.88 767.00,339.94 775.00,341.07 783.00,342.71 791.00,344.53 799.00,345.89 807.00,347.54 815.00,349.43 823.00,350.12 831.00,351.09 839.00,351.92 847.00,352.58 855.00,353.20 863.00,353.54 871.00,354.18 879.00,355.05 887.00,356.12 895.00,356.85 903.00,357.72 911.00,358.19 919.00,358.70 927.00,359.12 935.00,359.39 943.00,359.41 951.00,359.35 959.00,359.35 967.00,359.47 975.00,359.27 983.00,359.47 991.00,359.49 999.00,359.87 1007.00,360.52 1015.00,361.05 1023.00,361.71 1031.00,362.31 1039.00,362.71 1047.00,362.01 1055.00,361.55 1063.00,361.02 1071.00,360.26 1079.00,359.13 1087.00,357.68 1095.00,356.18 1103.00,354.23 1111.00,352.61 1119.00,351.63 1127.00,350.38 1135.00,349.18 1143.00,348.03 1151.00,346.84 1159.00,345.53 1167.00,344.31 1175.00,343.04 1183.00,341.79 1191.00,340.24 1199.00,338.92 1207.00,337.91 1215.00,336.89 1223.00,335.73 1231.00,334.50 1239.00,333.42 1247.00,332.29 1255.00,330.71 1263.00,329.69 1271.00,328.63 1279.00,327.42 1287.00,326.07 1295.00,324.87 1303.00,324.01 1311.00,322.93 1319.00,321.78 1327.00,320.35 1335.00,319.31 1343.00,318.23 1351.00,317.03 1359.00,315.85 1367.00,314.85 1375.00,313.74 1383.00,312.85 1391.00,311.77 1399.00,310.94 1407.00,310.06 1415.00,309.18 1423.00,308.15 1431.00,307.46 1439.00,306.73 1447.00,306.20 1455.00,305.67 1463.00,305.31 1471.00,305.07 1479.00,305.05 1487.00,305.43 1495.00,305.92 1503.00,306.20 1511.00,306.31 1519.00,307.00 1527.00,308.11 1535.00,309.01 1543.00,310.32 1551.00,311.74 1559.00,312.52 1567.00,313.73 1575.00,314.97 1583.00,316.20 1591.00,317.63 1599.00,319.01 1607.00,320.53 1615.00,322.21 1623.00,323.94 1631.00,326.27 1639.00,328.84 1647.00,331.56 1655.00,334.28 1663.00,337.10 1671.00,339.83" fill="none" stroke="#ff00ff" stroke-width="1"/>
<polyline points="7.00,72.30 15.00,72.30 23.00,71.60 31.00,70.30 39.00,69.50 47.00,69.20 55.00,67.40 63.00,68.20 71.00,69.40 79.00,69.40 87.00,69.40 95.00,71.30 103.00,74.30 111.00,78.20 119.00,81.90 127.00,85.80 135.00,94.90 143.00,105.30 151.00,115.60 159.00,125.00 167.00,134.89 175.00,145.18 183.00,155.27 191.00,163.41 199.00,172.13 207.00,179.75 215.00,188.22 223.00,195.70 231.00,202.94 239.00,209.32 247.00,216.65 255.00,224.18 263.00,231.49 271.00,237.98 279.00,243.81 287.00,250.34 295.00,256.72 303.00,257.96 311.00,257.41 319.00,258.08 327.00,259.56 335.00,261.89 343.00,261.65 351.00,260.60 359.00,262.63 367.00,263.35 375.00,265.01 383.00,267.30 391.00,270.06 399.00,273.25 407.00,277.92 415.00,281.49 423.00,285.01 431.00,288.63 439.00,291.59 447.00,294.23 455.00,296.51 463.00,298.72 471.00,301.44 479.00,303.89 487.00,305.93 495.00,308.36 503.00,311.27 511.00,316.12 519.00,321.27 527.00,325.14 535.00,330.62 543.00,335.67 551.00,339.33 559.00,342.81 567.00,345.05 575.00,346.24 583.00,347.14 591.00,347.05 599.00,347.31 607.00,349.31 615.00,351.26 623.00,352.79 631.00,355.50 639.00,356.83 647.00,358.26 655.00,360.19 663.00,361.81 671.00,361.95 679.00,361.19 687.00,360.29 695.00,359.48 703.00,357.95 711.00,357.24 719.00,356.43 727.00,355.90 735.00,356.05 743.00,356.29 751.00,357.90 759.00,359.62 767.00,360.45 775.00,360.24 783.00,360.46 791.00,360.78 799.00,359.78 807.00,359.35 815.00,359.35 823.00,357.51 831.00,355.85 839.00,355.37 847.00,355.61 855.00,355.42 863.00,355.32 871.00,355.85 879.00,356.28 887.00,356.80 895.00,357.47 903.00,358.50 911.00,359.21 919.00,359.11 927.00,358.92 935.00,359.30 943.00,359.28 951.00,359.72 959.00,360.08 967.00,360.71 975.00,361.33 983.00,361.95 991.00,363.86 999.00,365.81 1007.00,367.57 1015.00,368.43 1023.00,369.43 1031.00,370.00 1039.00,369.67 1047.00,367.52 1055.00,365.48 1063.00,363.71 1071.00,362.16 1079.00,359.30 1087.00,355.59 1095.00,352.50 1103.00,348.30 1111.00,344.16 1119.00,340.97 1127.00,336.78 1135.00,332.52 1143.00,328.52 1151.00,324.17 1159.00,319.88 1167.00,315.17 1175.00,310.26 1183.00,305.83 1191.00,301.69 1199.00,298.38 1207.00,295.50 1215.00,294.45 1223.00,292.83 1231.00,291.31 1239.00,289.47 1247.00,289.04 1255.00,288.71 1263.00,288.14 1271.00,288.80 1279.00,289.38 1287.00,288.66 1295.00,288.61 1303.00,289.40 1311.00,290.10 1319.00,290.65 1327.00,290.84 1335.00,291.98 1343.00,293.50 1351.00,294.36 1359.00,295.22 1367.00,295.86 1375.00,295.98 1383.00,296.31 1391.00,296.98 1399.00,298.36 1407.00,299.53 1415.00,300.80 1423.00,302.88 1431.00,305.64 1439.00,308.45 1447.00,312.00 1455.00,315.00 1463.00,318.19 1471.00,320.40 1479.00,322.84 1487.00,324.70 1495.00,327.70 1503.00,329.37 1511.00,330.94 1519.00,333.03 1527.00,335.32 1535.00,337.22 1543.00,339.37 1551.00,341.27 1559.00,342.94 1567.00,344.10 1575.00,345.38 1583.00,346.91 1591.00,349.00 1599.00,350.14 1607.00,351.31 1615.00,352.19 1623.00,353.70 1631.00,356.59 1639.00,360.63 1647.00,364.92 1655.00,370.01 1663.00,374.49 1671.00,379.40" fill="none" stroke="#ffa500" stroke-width="1"/>
</g>
<g shape-rendering="crispEdges">
<rect x="7" y="300" width="1685" height="2" fill="#ff0000"/>
<rect x="7" y="347" width="1685" height="2" fill="#ff0000"/>
<rect x="7" y="394" width="1685" height="2" fill="#22c522"/>
<rect x="7" y="459" width="1685" height="2" fill="#3056e0"/>
<rect x="1686" y="457" width="6" height="6" fill="#3a62e6"/>
<rect x="1688" y="459" width="2" height="2" fill="#ffffff"/>
<rect x="6" y="457" width="6" height="6" fill="#3a62e6"/>
<rect x="8" y="459" width="2" height="2" fill="#ffffff"/>
</g>
<g shape-rendering="crispEdges">
<rect x="1693" y="51" width="2" height="1" fill="#000"/>
<rect x="1693" y="84" width="2" height="1" fill="#000"/>
<rect x="1693" y="117" width="2" height="1" fill="#000"/>
<rect x="1693" y="150" width="2" height="1" fill="#000"/>
<rect x="1693" y="183" width="2" height="1" fill="#000"/>
<rect x="1693" y="216" width="2" height="1" fill="#000"/>
<rect x="1693" y="249" width="2" height="1" fill="#000"/>
<rect x="1693" y="282" width="2" height="1" fill="#000"/>
<rect x="1693" y="315" width="2" height="1" fill="#000"/>
<rect x="1693" y="381" width="2" height="1" fill="#000"/>
<rect x="1693" y="414" width="2" height="1" fill="#000"/>
<rect x="1693" y="480" width="2" height="1" fill="#000"/>
</g>
<text x="1697.6" y="54.6" font-size="9.8" fill="#000" stroke="#000" stroke-width="0.2" textLength="28.00" lengthAdjust="spacingAndGlyphs" text-rendering="geometricPrecision" font-family="'Liberation Sans', Arial, sans-serif">53.180</text>
<text x="1697.6" y="87.6" font-size="9.8" fill="#000" stroke="#000" stroke-width="0.2" textLength="28.33" lengthAdjust="spacingAndGlyphs" text-rendering="geometricPrecision" font-family="'Liberation Sans', Arial, sans-serif">50.380</text>
<text x="1697.6" y="120.6" font-size="9.8" fill="#000" stroke="#000" stroke-width="0.2" textLength="28.33" lengthAdjust="spacingAndGlyphs" text-rendering="geometricPrecision" font-family="'Liberation Sans', Arial, sans-serif">47.660</text>
<text x="1697.6" y="153.6" font-size="9.8" fill="#000" stroke="#000" stroke-width="0.2" textLength="28.33" lengthAdjust="spacingAndGlyphs" text-rendering="geometricPrecision" font-family="'Liberation Sans', Arial, sans-serif">44.860</text>
<text x="1697.6" y="186.6" font-size="9.8" fill="#000" stroke="#000" stroke-width="0.2" textLength="28.33" lengthAdjust="spacingAndGlyphs" text-rendering="geometricPrecision" font-family="'Liberation Sans', Arial, sans-serif">42.060</text>
<text x="1697.6" y="219.6" font-size="9.8" fill="#000" stroke="#000" stroke-width="0.2" textLength="28.33" lengthAdjust="spacingAndGlyphs" text-rendering="geometricPrecision" font-family="'Liberation Sans', Arial, sans-serif">39.260</text>
<text x="1697.6" y="252.6" font-size="9.8" fill="#000" stroke="#000" stroke-width="0.2" textLength="28.33" lengthAdjust="spacingAndGlyphs" text-rendering="geometricPrecision" font-family="'Liberation Sans', Arial, sans-serif">36.460</text>
<text x="1697.6" y="285.6" font-size="9.8" fill="#000" stroke="#000" stroke-width="0.2" textLength="28.33" lengthAdjust="spacingAndGlyphs" text-rendering="geometricPrecision" font-family="'Liberation Sans', Arial, sans-serif">33.660</text>
<text x="1697.6" y="318.6" font-size="9.8" fill="#000" stroke="#000" stroke-width="0.2" textLength="28.33" lengthAdjust="spacingAndGlyphs" text-rendering="geometricPrecision" font-family="'Liberation Sans', Arial, sans-serif">30.860</text>
<text x="1697.6" y="384.6" font-size="9.8" fill="#000" stroke="#000" stroke-width="0.2" textLength="28.33" lengthAdjust="spacingAndGlyphs" text-rendering="geometricPrecision" font-family="'Liberation Sans', Arial, sans-serif">25.260</text>
<text x="1697.6" y="417.6" font-size="9.8" fill="#000" stroke="#000" stroke-width="0.2" textLength="28.33" lengthAdjust="spacingAndGlyphs" text-rendering="geometricPrecision" font-family="'Liberation Sans', Arial, sans-serif">22.460</text>
<text x="1697.6" y="483.6" font-size="9.8" fill="#000" stroke="#000" stroke-width="0.2" textLength="28.33" lengthAdjust="spacingAndGlyphs" text-rendering="geometricPrecision" font-family="'Liberation Sans', Arial, sans-serif">16.860</text>
<rect x="1694" y="295" width="33" height="11" fill="#ff0000" shape-rendering="crispEdges"/>
<text x="1697.6" y="303.7" font-size="9.8" fill="#ffffff" stroke="#ffffff" stroke-width="0.2" textLength="28.33" lengthAdjust="spacingAndGlyphs" text-rendering="geometricPrecision" font-family="'Liberation Sans', Arial, sans-serif">32.000</text>
<rect x="1694" y="342" width="33" height="11" fill="#ff0000" shape-rendering="crispEdges"/>
<text x="1697.6" y="350.7" font-size="9.8" fill="#ffffff" stroke="#ffffff" stroke-width="0.2" textLength="28.33" lengthAdjust="spacingAndGlyphs" text-rendering="geometricPrecision" font-family="'Liberation Sans', Arial, sans-serif">28.000</text>
<rect x="1694" y="389" width="33" height="11" fill="#32cd32" shape-rendering="crispEdges"/>
<text x="1697.6" y="397.7" font-size="9.8" fill="#ffffff" stroke="#ffffff" stroke-width="0.2" textLength="28.33" lengthAdjust="spacingAndGlyphs" text-rendering="geometricPrecision" font-family="'Liberation Sans', Arial, sans-serif">24.000</text>
<rect x="1694" y="443" width="33" height="11" fill="#000000" shape-rendering="crispEdges"/>
<text x="1697.6" y="451.7" font-size="9.8" fill="#ffffff" stroke="#ffffff" stroke-width="0.2" textLength="28.33" lengthAdjust="spacingAndGlyphs" text-rendering="geometricPrecision" font-family="'Liberation Sans', Arial, sans-serif">19.530</text>
<rect x="1694" y="454" width="33" height="11" fill="#4169e1" shape-rendering="crispEdges"/>
<text x="1697.6" y="462.7" font-size="9.8" fill="#ffffff" stroke="#ffffff" stroke-width="0.2" textLength="28.33" lengthAdjust="spacingAndGlyphs" text-rendering="geometricPrecision" font-family="'Liberation Sans', Arial, sans-serif">18.500</text>
<polygon points="10,38 17,38 13.5,42" fill="#000"/>
<text x="22" y="43" font-size="9.8" fill="#000" stroke="#000" stroke-width="0.2" textLength="43.50" lengthAdjust="spacingAndGlyphs" text-rendering="geometricPrecision" font-family="'Liberation Sans', Arial, sans-serif">UKOil-,H4</text>
<text x="71.2" y="43" font-size="9.8" fill="#000" stroke="#000" stroke-width="0.2" textLength="121.00" lengthAdjust="spacingAndGlyphs" text-rendering="geometricPrecision" font-family="'Liberation Sans', Arial, sans-serif">19.530 19.530 19.530 19.530</text>
<text x="1325" y="205.7" font-size="32" fill="#ff0000" font-family="'Liberation Sans', 'Noto Sans CJK SC', sans-serif">多空转折点<tspan font-size="33.5">24</tspan></text>
<g clip-path="url(#cd)" shape-rendering="crispEdges">
<rect x="7" y="530" width="1" height="1" fill="#c0c0c0"/>
<rect x="15" y="530" width="1" height="4" fill="#c0c0c0"/>
<rect x="23" y="530" width="1" height="4" fill="#c0c0c0"/>
<rect x="31" y="530" width="1" height="4" fill="#c0c0c0"/>
<rect x="39" y="530" width="1" height="4" fill="#c0c0c0"/>
<rect x="47" y="530" width="1" height="5" fill="#c0c0c0"/>
<rect x="55" y="530" width="1" height="5" fill="#c0c0c0"/>
<rect x="63" y="530" width="1" height="5" fill="#c0c0c0"/>
<rect x="71" y="530" width="1" height="8" fill="#c0c0c0"/>
<rect x="79" y="530" width="1" height="10" fill="#c0c0c0"/>
<rect x="87" y="530" width="1" height="12" fill="#c0c0c0"/>
<rect x="95" y="530" width="1" height="13" fill="#c0c0c0"/>
<rect x="103" y="530" width="1" height="17" fill="#c0c0c0"/>
<rect x="111" y="530" width="1" height="22" fill="#c0c0c0"/>
<rect x="119" y="530" width="1" height="27" fill="#c0c0c0"/>
<rect x="127" y="530" width="1" height="30" fill="#c0c0c0"/>
<rect x="135" y="530" width="1" height="49" fill="#c0c0c0"/>
<rect x="143" y="530" width="1" height="68" fill="#c0c0c0"/>
<rect x="151" y="530" width="1" height="79" fill="#c0c0c0"/>
<rect x="159" y="530" width="1" height="85" fill="#c0c0c0"/>
<rect x="167" y="530" width="1" height="86" fill="#c0c0c0"/>
<rect x="175" y="530" width="1" height="90" fill="#c0c0c0"/>
<rect x="183" y="530" width="1" height="94" fill="#c0c0c0"/>
<rect x="191" y="530" width="1" height="90" fill="#c0c0c0"/>
<rect x="199" y="530" width="1" height="86" fill="#c0c0c0"/>
<rect x="207" y="530" width="1" height="81" fill="#c0c0c0"/>
<rect x="215" y="530" width="1" height="78" fill="#c0c0c0"/>
<rect x="223" y="530" width="1" height="73" fill="#c0c0c0"/>
<rect x="231" y="530" width="1" height="67" fill="#c0c0c0"/>
<rect x="239" y="530" width="1" height="61" fill="#c0c0c0"/>
<rect x="247" y="530" width="1" height="58" fill="#c0c0c0"/>
<rect x="255" y="530" width="1" height="56" fill="#c0c0c0"/>
<rect x="263" y="530" width="1" height="55" fill="#c0c0c0"/>
<rect x="271" y="530" width="1" height="53" fill="#c0c0c0"/>
<rect x="279" y="530" width="1" height="51" fill="#c0c0c0"/>
<rect x="287" y="530" width="1" height="52" fill="#c0c0c0"/>
<rect x="295" y="530" width="1" height="52" fill="#c0c0c0"/>
<rect x="303" y="530" width="1" height="52" fill="#c0c0c0"/>
<rect x="311" y="530" width="1" height="52" fill="#c0c0c0"/>
<rect x="319" y="530" width="1" height="52" fill="#c0c0c0"/>
<rect x="327" y="530" width="1" height="52" fill="#c0c0c0"/>
<rect x="335" y="530" width="1" height="50" fill="#c0c0c0"/>
<rect x="343" y="530" width="1" height="47" fill="#c0c0c0"/>
<rect x="351" y="530" width="1" height="42" fill="#c0c0c0"/>
<rect x="359" y="530" width="1" height="41" fill="#c0c0c0"/>
<rect x="367" y="530" width="1" height="37" fill="#c0c0c0"/>
<rect x="375" y="530" width="1" height="33" fill="#c0c0c0"/>
<rect x="383" y="530" width="1" height="34" fill="#c0c0c0"/>
<rect x="391" y="530" width="1" height="34" fill="#c0c0c0"/>
<rect x="399" y="530" width="1" height="34" fill="#c0c0c0"/>
<rect x="407" y="530" width="1" height="37" fill="#c0c0c0"/>
<rect x="415" y="530" width="1" height="38" fill="#c0c0c0"/>
<rect x="423" y="530" width="1" height="40" fill="#c0c0c0"/>
<rect x="431" y="530" width="1" height="42" fill="#c0c0c0"/>
<rect x="439" y="530" width="1" height="40" fill="#c0c0c0"/>
<rect x="447" y="530" width="1" height="39" fill="#c0c0c0"/>
<rect x="455" y="530" width="1" height="38" fill="#c0c0c0"/>
<rect x="463" y="530" width="1" height="38" fill="#c0c0c0"/>
<rect x="471" y="530" width="1" height="39" fill="#c0c0c0"/>
<rect x="479" y="530" width="1" height="39" fill="#c0c0c0"/>
<rect x="487" y="530" width="1" height="39" fill="#c0c0c0"/>
<rect x="495" y="530" width="1" height="39" fill="#c0c0c0"/>
<rect x="503" y="530" width="1" height="39" fill="#c0c0c0"/>
<rect x="511" y="530" width="1" height="42" fill="#c0c0c0"/>
<rect x="519" y="530" width="1" height="44" fill="#c0c0c0"/>
<rect x="527" y="530" width="1" height="44" fill="#c0c0c0"/>
<rect x="535" y="530" width="1" height="46" fill="#c0c0c0"/>
<rect x="543" y="530" width="1" height="45" fill="#c0c0c0"/>
<rect x="551" y="530" width="1" height="45" fill="#c0c0c0"/>
<rect x="559" y="530" width="1" height="43" fill="#c0c0c0"/>
<rect x="567" y="530" width="1" height="38" fill="#c0c0c0"/>
<rect x="575" y="530" width="1" height="34" fill="#c0c0c0"/>
<rect x="583" y="530" width="1" height="29" fill="#c0c0c0"/>
<rect x="591" y="530" width="1" height="23" fill="#c0c0c0"/>
<rect x="599" y="530" width="1" height="19" fill="#c0c0c0"/>
<rect x="607" y="530" width="1" height="19" fill="#c0c0c0"/>
<rect x="615" y="530" width="1" height="19" fill="#c0c0c0"/>
<rect x="623" y="530" width="1" height="19" fill="#c0c0c0"/>
<rect x="631" y="530" width="1" height="21" fill="#c0c0c0"/>
<rect x="639" y="530" width="1" height="22" fill="#c0c0c0"/>
<rect x="647" y="530" width="1" height="22" fill="#c0c0c0"/>
<rect x="655" y="530" width="1" height="22" fill="#c0c0c0"/>
<rect x="663" y="530" width="1" height="23" fill="#c0c0c0"/>
<rect x="671" y="530" width="1" height="20" fill="#c0c0c0"/>
<rect x="679" y="530" width="1" height="18" fill="#c0c0c0"/>
<rect x="687" y="530" width="1" height="15" fill="#c0c0c0"/>
<rect x="695" y="530" width="1" height="13" fill="#c0c0c0"/>
<rect x="703" y="530" width="1" height="11" fill="#c0c0c0"/>
<rect x="711" y="530" width="1" height="10" fill="#c0c0c0"/>
<rect x="719" y="530" width="1" height="9" fill="#c0c0c0"/>
<rect x="727" y="530" width="1" height="8" fill="#c0c0c0"/>
<rect x="735" y="530" width="1" height="6" fill="#c0c0c0"/>
<rect x="743" y="530" width="1" height="5" fill="#c0c0c0"/>
<rect x="751" y="530" width="1" height="7" fill="#c0c0c0"/>
<rect x="759" y="530" width="1" height="7" fill="#c0c0c0"/>
<rect x="767" y="530" width="1" height="6" fill="#c0c0c0"/>
<rect x="775" y="530" width="1" height="5" fill="#c0c0c0"/>
<rect x="783" y="530" width="1" height="5" fill="#c0c0c0"/>
<rect x="791" y="530" width="1" height="5" fill="#c0c0c0"/>
<rect x="799" y="530" width="1" height="5" fill="#c0c0c0"/>
<rect x="807" y="530" width="1" height="5" fill="#c0c0c0"/>
<rect x="815" y="530" width="1" height="6" fill="#c0c0c0"/>
<rect x="823" y="530" width="1" height="3" fill="#c0c0c0"/>
<rect x="831" y="530" width="1" height="1" fill="#c0c0c0"/>
<rect x="839" y="530" width="1" height="1" fill="#c0c0c0"/>
<rect x="847" y="530" width="1" height="1" fill="#c0c0c0"/>
<rect x="855" y="530" width="1" height="1" fill="#c0c0c0"/>
<rect x="863" y="530" width="1" height="1" fill="#c0c0c0"/>
<rect x="879" y="530" width="1" height="2" fill="#c0c0c0"/>
<rect x="887" y="530" width="1" height="2" fill="#c0c0c0"/>
<rect x="895" y="530" width="1" height="4" fill="#c0c0c0"/>
<rect x="903" y="530" width="1" height="6" fill="#c0c0c0"/>
<rect x="911" y="530" width="1" height="6" fill="#c0c0c0"/>
<rect x="919" y="530" width="1" height="4" fill="#c0c0c0"/>
<rect x="927" y="530" width="1" height="5" fill="#c0c0c0"/>
<rect x="935" y="530" width="1" height="4" fill="#c0c0c0"/>
<rect x="943" y="530" width="1" height="4" fill="#c0c0c0"/>
<rect x="951" y="530" width="1" height="4" fill="#c0c0c0"/>
<rect x="959" y="530" width="1" height="4" fill="#c0c0c0"/>
<rect x="967" y="530" width="1" height="5" fill="#c0c0c0"/>
<rect x="975" y="530" width="1" height="6" fill="#c0c0c0"/>
<rect x="983" y="530" width="1" height="9" fill="#c0c0c0"/>
<rect x="991" y="530" width="1" height="9" fill="#c0c0c0"/>
<rect x="999" y="530" width="1" height="10" fill="#c0c0c0"/>
<rect x="1007" y="530" width="1" height="11" fill="#c0c0c0"/>
<rect x="1015" y="530" width="1" height="11" fill="#c0c0c0"/>
<rect x="1023" y="530" width="1" height="9" fill="#c0c0c0"/>
<rect x="1031" y="530" width="1" height="7" fill="#c0c0c0"/>
<rect x="1039" y="530" width="1" height="4" fill="#c0c0c0"/>
<rect x="1047" y="528" width="1" height="3" fill="#c0c0c0"/>
<rect x="1055" y="524" width="1" height="7" fill="#c0c0c0"/>
<rect x="1063" y="521" width="1" height="10" fill="#c0c0c0"/>
<rect x="1071" y="520" width="1" height="11" fill="#c0c0c0"/>
<rect x="1079" y="515" width="1" height="16" fill="#c0c0c0"/>
<rect x="1087" y="509" width="1" height="22" fill="#c0c0c0"/>
<rect x="1095" y="505" width="1" height="26" fill="#c0c0c0"/>
<rect x="1103" y="499" width="1" height="32" fill="#c0c0c0"/>
<rect x="1111" y="494" width="1" height="37" fill="#c0c0c0"/>
<rect x="1119" y="495" width="1" height="36" fill="#c0c0c0"/>
<rect x="1127" y="495" width="1" height="36" fill="#c0c0c0"/>
<rect x="1135" y="494" width="1" height="37" fill="#c0c0c0"/>
<rect x="1143" y="495" width="1" height="36" fill="#c0c0c0"/>
<rect x="1151" y="496" width="1" height="35" fill="#c0c0c0"/>
<rect x="1159" y="497" width="1" height="34" fill="#c0c0c0"/>
<rect x="1167" y="498" width="1" height="33" fill="#c0c0c0"/>
<rect x="1175" y="499" width="1" height="32" fill="#c0c0c0"/>
<rect x="1183" y="500" width="1" height="31" fill="#c0c0c0"/>
<rect x="1191" y="501" width="1" height="30" fill="#c0c0c0"/>
<rect x="1199" y="503" width="1" height="28" fill="#c0c0c0"/>
<rect x="1207" y="506" width="1" height="25" fill="#c0c0c0"/>
<rect x="1215" y="509" width="1" height="22" fill="#c0c0c0"/>
<rect x="1223" y="510" width="1" height="21" fill="#c0c0c0"/>
<rect x="1231" y="513" width="1" height="18" fill="#c0c0c0"/>
<rect x="1239" y="515" width="1" height="16" fill="#c0c0c0"/>
<rect x="1247" y="517" width="1" height="14" fill="#c0c0c0"/>
<rect x="1255" y="516" width="1" height="15" fill="#c0c0c0"/>
<rect x="1263" y="516" width="1" height="15" fill="#c0c0c0"/>
<rect x="1271" y="516" width="1" height="15" fill="#c0c0c0"/>
<rect x="1279" y="516" width="1" height="15" fill="#c0c0c0"/>
<rect x="1287" y="516" width="1" height="15" fill="#c0c0c0"/>
<rect x="1295" y="517" width="1" height="14" fill="#c0c0c0"/>
<rect x="1303" y="520" width="1" height="11" fill="#c0c0c0"/>
<rect x="1311" y="522" width="1" height="9" fill="#c0c0c0"/>
<rect x="1319" y="524" width="1" height="7" fill="#c0c0c0"/>
<rect x="1327" y="525" width="1" height="6" fill="#c0c0c0"/>
<rect x="1335" y="527" width="1" height="4" fill="#c0c0c0"/>
<rect x="1343" y="530" width="1" height="1" fill="#c0c0c0"/>
<rect x="1351" y="530" width="1" height="1" fill="#c0c0c0"/>
<rect x="1383" y="530" width="1" height="1" fill="#c0c0c0"/>
<rect x="1391" y="530" width="1" height="2" fill="#c0c0c0"/>
<rect x="1399" y="530" width="1" height="5" fill="#c0c0c0"/>
<rect x="1407" y="530" width="1" height="7" fill="#c0c0c0"/>
<rect x="1415" y="530" width="1" height="9" fill="#c0c0c0"/>
<rect x="1423" y="530" width="1" height="11" fill="#c0c0c0"/>
<rect x="1431" y="530" width="1" height="13" fill="#c0c0c0"/>
<rect x="1439" y="530" width="1" height="16" fill="#c0c0c0"/>
<rect x="1447" y="530" width="1" height="19" fill="#c0c0c0"/>
<rect x="1455" y="530" width="1" height="21" fill="#c0c0c0"/>
<rect x="1463" y="530" width="1" height="22" fill="#c0c0c0"/>
<rect x="1471" y="530" width="1" height="22" fill="#c0c0c0"/>
<rect x="1479" y="530" width="1" height="23" fill="#c0c0c0"/>
<rect x="1487" y="530" width="1" height="22" fill="#c0c0c0"/>
<rect x="1495" y="530" width="1" height="23" fill="#c0c0c0"/>
<rect x="1503" y="530" width="1" height="21" fill="#c0c0c0"/>
<rect x="1511" y="530" width="1" height="20" fill="#c0c0c0"/>
<rect x="1519" y="530" width="1" height="19" fill="#c0c0c0"/>
<rect x="1527" y="530" width="1" height="19" fill="#c0c0c0"/>
<rect x="1535" y="530" width="1" height="17" fill="#c0c0c0"/>
<rect x="1543" y="530" width="1" height="16" fill="#c0c0c0"/>
<rect x="1551" y="530" width="1" height="15" fill="#c0c0c0"/>
<rect x="1559" y="530" width="1" height="14" fill="#c0c0c0"/>
<rect x="1567" y="530" width="1" height="14" fill="#c0c0c0"/>
<rect x="1575" y="530" width="1" height="14" fill="#c0c0c0"/>
<rect x="1583" y="530" width="1" height="14" fill="#c0c0c0"/>
<rect x="1591" y="530" width="1" height="16" fill="#c0c0c0"/>
<rect x="1599" y="530" width="1" height="16" fill="#c0c0c0"/>
<rect x="1607" y="530" width="1" height="18" fill="#c0c0c0"/>
<rect x="1615" y="530" width="1" height="19" fill="#c0c0c0"/>
<rect x="1623" y="530" width="1" height="20" fill="#c0c0c0"/>
<rect x="1631" y="530" width="1" height="26" fill="#c0c0c0"/>
<rect x="1639" y="530" width="1" height="32" fill="#c0c0c0"/>
<rect x="1647" y="530" width="1" height="38" fill="#c0c0c0"/>
<rect x="1655" y="530" width="1" height="44" fill="#c0c0c0"/>
<rect x="1663" y="530" width="1" height="48" fill="#c0c0c0"/>
<rect x="1671" y="530" width="1" height="50" fill="#c0c0c0"/>
</g>
<g clip-path="url(#cd)" shape-rendering="crispEdges">
<polyline points="7.00,536.50 15.00,535.48 23.00,535.26 31.00,534.45 39.00,534.40 47.00,534.40 55.00,534.40 63.00,534.48 71.00,534.83 79.00,535.78 87.00,536.64 95.00,537.62 103.00,539.03 111.00,541.00 119.00,543.47 127.00,546.24 135.00,551.17 143.00,557.87 151.00,565.54 159.00,573.64 167.00,581.73 175.00,589.83 183.00,597.80 191.00,604.80 199.00,611.12 207.00,614.67 215.00,615.77 223.00,615.07 231.00,613.09 239.00,610.33 247.00,606.78 255.00,602.59 263.00,598.72 271.00,594.97 279.00,591.63 287.00,588.77 295.00,586.49 303.00,584.86 311.00,583.83 319.00,583.13 327.00,582.64 335.00,582.14 343.00,581.48 351.00,580.50 359.00,579.27 367.00,577.57 375.00,575.44 383.00,573.47 391.00,571.49 399.00,569.51 407.00,567.99 415.00,567.03 423.00,566.81 431.00,566.92 439.00,567.28 447.00,567.96 455.00,568.44 463.00,568.93 471.00,569.53 479.00,569.79 487.00,569.90 495.00,569.80 503.00,569.48 511.00,569.70 519.00,570.23 527.00,570.88 535.00,571.73 543.00,572.37 551.00,573.00 559.00,573.42 567.00,573.31 575.00,572.71 583.00,571.22 591.00,568.88 599.00,566.11 607.00,563.13 615.00,560.27 623.00,557.40 631.00,554.96 639.00,553.16 647.00,551.81 655.00,551.11 663.00,551.09 671.00,551.18 679.00,551.03 687.00,550.54 695.00,549.84 703.00,548.70 711.00,547.36 719.00,545.93 727.00,544.31 735.00,542.42 743.00,540.77 751.00,539.54 759.00,538.67 767.00,537.88 775.00,537.24 783.00,536.70 791.00,536.27 799.00,535.96 807.00,535.88 815.00,535.96 823.00,535.50 831.00,534.81 839.00,534.24 847.00,533.81 855.00,533.37 863.00,532.88 871.00,532.33 879.00,531.97 887.00,531.61 895.00,531.73 903.00,532.29 911.00,532.84 919.00,533.21 927.00,533.63 935.00,534.06 943.00,534.47 951.00,534.70 959.00,534.91 967.00,535.02 975.00,535.13 983.00,535.48 991.00,535.96 999.00,536.50 1007.00,537.21 1015.00,537.99 1023.00,538.59 1031.00,538.87 1039.00,538.78 1047.00,537.82 1055.00,536.20 1063.00,534.23 1071.00,532.07 1079.00,529.20 1087.00,525.69 1095.00,521.89 1103.00,517.69 1111.00,513.27 1119.00,509.59 1127.00,506.34 1135.00,503.37 1143.00,500.56 1151.00,498.48 1159.00,497.16 1167.00,496.38 1175.00,496.38 1183.00,497.03 1191.00,497.73 1199.00,498.67 1207.00,499.99 1215.00,501.56 1223.00,503.08 1231.00,504.84 1239.00,506.76 1247.00,508.76 1255.00,510.53 1263.00,512.19 1271.00,513.61 1279.00,514.72 1287.00,515.51 1295.00,516.30 1303.00,517.08 1311.00,517.83 1319.00,518.61 1327.00,519.62 1335.00,520.83 1343.00,522.39 1351.00,523.94 1359.00,525.50 1367.00,526.94 1375.00,528.04 1383.00,529.00 1391.00,529.86 1399.00,530.93 1407.00,532.04 1415.00,533.01 1423.00,534.20 1431.00,535.62 1439.00,537.36 1447.00,539.44 1455.00,541.68 1463.00,543.90 1471.00,545.78 1479.00,547.53 1487.00,548.98 1495.00,550.31 1503.00,551.22 1511.00,551.67 1519.00,551.66 1527.00,551.44 1535.00,550.89 1543.00,550.24 1551.00,549.37 1559.00,548.47 1567.00,547.46 1575.00,546.63 1583.00,545.97 1591.00,545.66 1599.00,545.41 1607.00,545.51 1615.00,545.82 1623.00,546.36 1631.00,547.68 1639.00,549.69 1647.00,552.46 1655.00,555.79 1663.00,559.30 1671.00,563.00" fill="none" stroke="#ff0000" stroke-width="1" stroke-dasharray="3 3"/>
</g>
<text x="11" y="497.6" font-size="9.8" fill="#000" stroke="#000" stroke-width="0.2" textLength="134.10" lengthAdjust="spacingAndGlyphs" text-rendering="geometricPrecision" font-family="'Liberation Sans', Arial, sans-serif">MACD(12,26,9) -2.4781 -1.6240</text>
<g shape-rendering="crispEdges">
<rect x="1693" y="487" width="2" height="1" fill="#000"/>
<rect x="1693" y="530" width="3" height="1" fill="#000"/>
<rect x="1693" y="630" width="2" height="1" fill="#000"/>
</g>
<text x="1696" y="496" font-size="9.8" fill="#000" stroke="#000" stroke-width="0.2" textLength="28.50" lengthAdjust="spacingAndGlyphs" text-rendering="geometricPrecision" font-family="'Liberation Sans', Arial, sans-serif">2.1745</text>
<text x="1696" y="533.8" font-size="9.8" fill="#000" stroke="#000" stroke-width="0.2" textLength="17.90" lengthAdjust="spacingAndGlyphs" text-rendering="geometricPrecision" font-family="'Liberation Sans', Arial, sans-serif">0.00</text>
<text x="1695.7" y="627.6" font-size="9.8" fill="#000" stroke="#000" stroke-width="0.2" textLength="31.41" lengthAdjust="spacingAndGlyphs" text-rendering="geometricPrecision" font-family="'Liberation Sans', Arial, sans-serif">-4.9955</text>
<g shape-rendering="crispEdges">
<line x1="8" y1="674.5" x2="1692" y2="674.5" stroke="#c0c0c0" stroke-width="1" stroke-dasharray="3 3"/>
<line x1="8" y1="727.5" x2="1692" y2="727.5" stroke="#c0c0c0" stroke-width="1" stroke-dasharray="3 3"/>
</g>
<g clip-path="url(#cr)" shape-rendering="crispEdges">
<polyline points="7.00,696.10 15.00,708.20 23.00,706.20 31.00,706.20 39.00,703.30 47.00,707.20 55.00,708.50 63.00,712.10 71.00,717.00 79.00,715.60 87.00,720.30 95.00,722.00 103.00,732.10 111.00,736.20 119.00,738.40 127.00,739.20 135.00,754.10 143.00,756.10 151.00,748.00 159.00,741.60 167.00,730.30 175.00,734.30 183.00,736.20 191.00,720.30 199.00,722.40 207.00,714.40 215.00,718.30 223.00,713.40 231.00,713.40 239.00,710.40 247.00,714.40 255.00,717.30 263.00,717.30 271.00,717.30 279.00,717.30 287.00,723.40 295.00,723.40 303.00,724.40 311.00,725.40 319.00,726.40 327.00,726.40 335.00,725.30 343.00,712.30 351.00,710.30 359.00,717.20 367.00,709.30 375.00,707.40 383.00,718.40 391.00,715.60 399.00,718.90 407.00,724.30 415.00,720.40 423.00,724.50 431.00,724.50 439.00,717.20 447.00,715.40 455.00,720.20 463.00,718.60 471.00,724.50 479.00,723.10 487.00,721.30 495.00,723.50 503.00,727.20 511.00,731.20 519.00,731.20 527.00,728.20 535.00,732.20 543.00,723.30 551.00,725.30 559.00,716.40 567.00,707.60 575.00,708.50 583.00,704.10 591.00,697.50 599.00,700.70 607.00,711.30 615.00,709.30 623.00,711.30 631.00,719.40 639.00,713.50 647.00,713.50 655.00,716.40 663.00,716.30 671.00,704.40 679.00,702.50 687.00,702.30 695.00,700.50 703.00,701.50 711.00,702.50 719.00,706.40 727.00,701.50 735.00,700.50 743.00,701.50 751.00,711.30 759.00,707.40 767.00,700.50 775.00,701.50 783.00,702.50 791.00,708.40 799.00,704.40 807.00,704.40 815.00,710.40 823.00,690.50 831.00,692.60 839.00,694.60 847.00,703.30 855.00,699.00 863.00,696.60 871.00,706.40 879.00,707.40 887.00,710.20 895.00,708.40 903.00,710.20 911.00,708.40 919.00,707.40 927.00,702.50 935.00,702.50 943.00,697.60 951.00,706.40 959.00,710.20 967.00,711.30 975.00,712.30 983.00,716.30 991.00,713.50 999.00,718.00 1007.00,717.20 1015.00,710.90 1023.00,703.20 1031.00,693.90 1039.00,691.40 1047.00,672.50 1055.00,678.10 1063.00,679.60 1071.00,688.00 1079.00,675.70 1087.00,669.60 1095.00,672.50 1103.00,666.80 1111.00,665.00 1119.00,686.70 1127.00,682.60 1135.00,682.60 1143.00,685.00 1151.00,685.30 1159.00,684.40 1167.00,684.40 1175.00,681.20 1183.00,683.40 1191.00,684.40 1199.00,688.50 1207.00,693.30 1215.00,694.30 1223.00,692.50 1231.00,693.50 1239.00,697.90 1247.00,696.40 1255.00,686.40 1263.00,685.40 1271.00,688.50 1279.00,685.40 1287.00,689.30 1295.00,689.30 1303.00,703.30 1311.00,706.30 1319.00,704.30 1327.00,696.20 1335.00,708.50 1343.00,710.20 1351.00,702.40 1359.00,702.40 1367.00,704.30 1375.00,700.40 1383.00,704.50 1391.00,707.00 1399.00,718.30 1407.00,717.30 1415.00,717.30 1423.00,717.30 1431.00,726.40 1439.00,728.10 1447.00,732.10 1455.00,727.70 1463.00,727.40 1471.00,724.20 1479.00,728.10 1487.00,713.30 1495.00,721.50 1503.00,713.40 1511.00,713.40 1519.00,712.40 1527.00,715.40 1535.00,710.50 1543.00,710.50 1551.00,711.50 1559.00,709.50 1567.00,715.40 1575.00,716.40 1583.00,719.30 1591.00,727.90 1599.00,722.50 1607.00,725.20 1615.00,726.40 1623.00,729.40 1631.00,742.20 1639.00,746.10 1647.00,748.90 1655.00,749.30 1663.00,749.30 1671.00,749.30" fill="none" stroke="#1e90ff" stroke-width="1"/>
</g>
<text x="11" y="646" font-size="9.8" fill="#000" stroke="#000" stroke-width="0.2" textLength="68.50" lengthAdjust="spacingAndGlyphs" text-rendering="geometricPrecision" font-family="'Liberation Sans', Arial, sans-serif">RSI(14) 13.1494</text>
<text x="1696" y="643.7" font-size="9.8" fill="#000" stroke="#000" stroke-width="0.2" textLength="14.50" lengthAdjust="spacingAndGlyphs" text-rendering="geometricPrecision" font-family="'Liberation Sans', Arial, sans-serif">100</text>
<text x="1695" y="677.8" font-size="9.8" fill="#000" stroke="#000" stroke-width="0.2" textLength="10.30" lengthAdjust="spacingAndGlyphs" text-rendering="geometricPrecision" font-family="'Liberation Sans', Arial, sans-serif">70</text>
<text x="1695" y="730.8" font-size="9.8" fill="#000" stroke="#000" stroke-width="0.2" textLength="10.30" lengthAdjust="spacingAndGlyphs" text-rendering="geometricPrecision" font-family="'Liberation Sans', Arial, sans-serif">30</text>
<text x="1696" y="763.6" font-size="9.8" fill="#000" stroke="#000" stroke-width="0.2" textLength="5.15" lengthAdjust="spacingAndGlyphs" text-rendering="geometricPrecision" font-family="'Liberation Sans', Arial, sans-serif">0</text>
<g shape-rendering="crispEdges">
<rect x="1693" y="635" width="2" height="1" fill="#000"/>
</g>
<g shape-rendering="crispEdges">
<rect x="7" y="768" width="1" height="3" fill="#000"/>
<rect x="71" y="768" width="1" height="3" fill="#000"/>
<rect x="135" y="768" width="1" height="3" fill="#000"/>
<rect x="199" y="768" width="1" height="3" fill="#000"/>
<rect x="263" y="768" width="1" height="3" fill="#000"/>
<rect x="327" y="768" width="1" height="3" fill="#000"/>
<rect x="391" y="768" width="1" height="3" fill="#000"/>
<rect x="455" y="768" width="1" height="3" fill="#000"/>
<rect x="519" y="768" width="1" height="3" fill="#000"/>
<rect x="583" y="768" width="1" height="3" fill="#000"/>
<rect x="647" y="768" width="1" height="3" fill="#000"/>
<rect x="711" y="768" width="1" height="3" fill="#000"/>
<rect x="775" y="768" width="1" height="3" fill="#000"/>
<rect x="839" y="768" width="1" height="3" fill="#000"/>
<rect x="903" y="768" width="1" height="3" fill="#000"/>
<rect x="967" y="768" width="1" height="3" fill="#000"/>
<rect x="1031" y="768" width="1" height="3" fill="#000"/>
<rect x="1095" y="768" width="1" height="3" fill="#000"/>
<rect x="1159" y="768" width="1" height="3" fill="#000"/>
<rect x="1223" y="768" width="1" height="3" fill="#000"/>
<rect x="1287" y="768" width="1" height="3" fill="#000"/>
<rect x="1351" y="768" width="1" height="3" fill="#000"/>
<rect x="1415" y="768" width="1" height="3" fill="#000"/>
<rect x="1479" y="768" width="1" height="3" fill="#000"/>
<rect x="1543" y="768" width="1" height="3" fill="#000"/>
<rect x="1607" y="768" width="1" height="3" fill="#000"/>
<rect x="1671" y="768" width="1" height="3" fill="#000"/>
</g>
<text x="6" y="779.8" font-size="9.8" fill="#000" stroke="#000" stroke-width="0.2" textLength="47.00" lengthAdjust="spacingAndGlyphs" text-rendering="geometricPrecision" font-family="'Liberation Sans', Arial, sans-serif">4 Mar 2020</text>
<text x="70" y="779.8" font-size="9.8" fill="#000" stroke="#000" stroke-width="0.2" textLength="50.10" lengthAdjust="spacingAndGlyphs" text-rendering="geometricPrecision" font-family="'Liberation Sans', Arial, sans-serif">5 Mar 17:00</text>
<text x="134" y="779.8" font-size="9.8" fill="#000" stroke="#000" stroke-width="0.2" textLength="49.42" lengthAdjust="spacingAndGlyphs" text-rendering="geometricPrecision" font-family="'Liberation Sans', Arial, sans-serif">8 Mar 23:00</text>
<text x="198" y="779.8" font-size="9.8" fill="#000" stroke="#000" stroke-width="0.2" textLength="54.57" lengthAdjust="spacingAndGlyphs" text-rendering="geometricPrecision" font-family="'Liberation Sans', Arial, sans-serif">10 Mar 04:00</text>
<text x="262" y="779.8" font-size="9.8" fill="#000" stroke="#000" stroke-width="0.2" textLength="53.88" lengthAdjust="spacingAndGlyphs" text-rendering="geometricPrecision" font-family="'Liberation Sans', Arial, sans-serif">11 Mar 12:00</text>
<text x="326" y="779.8" font-size="9.8" fill="#000" stroke="#000" stroke-width="0.2" textLength="54.57" lengthAdjust="spacingAndGlyphs" text-rendering="geometricPrecision" font-family="'Liberation Sans', Arial, sans-serif">12 Mar 20:00</text>
<text x="390" y="779.8" font-size="9.8" fill="#000" stroke="#000" stroke-width="0.2" textLength="54.57" lengthAdjust="spacingAndGlyphs" text-rendering="geometricPrecision" font-family="'Liberation Sans', Arial, sans-serif">16 Mar 00:00</text>
<text x="454" y="779.8" font-size="9.8" fill="#000" stroke="#000" stroke-width="0.2" textLength="54.57" lengthAdjust="spacingAndGlyphs" text-rendering="geometricPrecision" font-family="'Liberation Sans', Arial, sans-serif">17 Mar 08:00</text>
<text x="518" y="779.8" font-size="9.8" fill="#000" stroke="#000" stroke-width="0.2" textLength="54.57" lengthAdjust="spacingAndGlyphs" text-rendering="geometricPrecision" font-family="'Liberation Sans', Arial, sans-serif">18 Mar 16:00</text>
<text x="582" y="779.8" font-size="9.8" fill="#000" stroke="#000" stroke-width="0.2" textLength="54.57" lengthAdjust="spacingAndGlyphs" text-rendering="geometricPrecision" font-family="'Liberation Sans', Arial, sans-serif">20 Mar 00:00</text>
<text x="646" y="779.8" font-size="9.8" fill="#000" stroke="#000" stroke-width="0.2" textLength="54.57" lengthAdjust="spacingAndGlyphs" text-rendering="geometricPrecision" font-family="'Liberation Sans', Arial, sans-serif">23 Mar 04:00</text>
<text x="710" y="779.8" font-size="9.8" fill="#000" stroke="#000" stroke-width="0.2" textLength="54.57" lengthAdjust="spacingAndGlyphs" text-rendering="geometricPrecision" font-family="'Liberation Sans', Arial, sans-serif">24 Mar 12:00</text>
<text x="774" y="779.8" font-size="9.8" fill="#000" stroke="#000" stroke-width="0.2" textLength="54.57" lengthAdjust="spacingAndGlyphs" text-rendering="geometricPrecision" font-family="'Liberation Sans', Arial, sans-serif">25 Mar 20:00</text>
<text x="838" y="779.8" font-size="9.8" fill="#000" stroke="#000" stroke-width="0.2" textLength="54.57" lengthAdjust="spacingAndGlyphs" text-rendering="geometricPrecision" font-family="'Liberation Sans', Arial, sans-serif">27 Mar 08:00</text>
<text x="902" y="779.8" font-size="9.8" fill="#000" stroke="#000" stroke-width="0.2" textLength="54.57" lengthAdjust="spacingAndGlyphs" text-rendering="geometricPrecision" font-family="'Liberation Sans', Arial, sans-serif">30 Mar 12:00</text>
<text x="966" y="779.8" font-size="9.8" fill="#000" stroke="#000" stroke-width="0.2" textLength="54.57" lengthAdjust="spacingAndGlyphs" text-rendering="geometricPrecision" font-family="'Liberation Sans', Arial, sans-serif">31 Mar 20:00</text>
<text x="1030" y="779.8" font-size="9.8" fill="#000" stroke="#000" stroke-width="0.2" textLength="47.37" lengthAdjust="spacingAndGlyphs" text-rendering="geometricPrecision" font-family="'Liberation Sans', Arial, sans-serif">2 Apr 04:00</text>
<text x="1094" y="779.8" font-size="9.8" fill="#000" stroke="#000" stroke-width="0.2" textLength="47.37" lengthAdjust="spacingAndGlyphs" text-rendering="geometricPrecision" font-family="'Liberation Sans', Arial, sans-serif">3 Apr 12:00</text>
<text x="1158" y="779.8" font-size="9.8" fill="#000" stroke="#000" stroke-width="0.2" textLength="47.37" lengthAdjust="spacingAndGlyphs" text-rendering="geometricPrecision" font-family="'Liberation Sans', Arial, sans-serif">6 Apr 16:00</text>
<text x="1222" y="779.8" font-size="9.8" fill="#000" stroke="#000" stroke-width="0.2" textLength="47.37" lengthAdjust="spacingAndGlyphs" text-rendering="geometricPrecision" font-family="'Liberation Sans', Arial, sans-serif">8 Apr 00:00</text>
<text x="1286" y="779.8" font-size="9.8" fill="#000" stroke="#000" stroke-width="0.2" textLength="47.37" lengthAdjust="spacingAndGlyphs" text-rendering="geometricPrecision" font-family="'Liberation Sans', Arial, sans-serif">9 Apr 08:00</text>
<text x="1350" y="779.8" font-size="9.8" fill="#000" stroke="#000" stroke-width="0.2" textLength="52.52" lengthAdjust="spacingAndGlyphs" text-rendering="geometricPrecision" font-family="'Liberation Sans', Arial, sans-serif">13 Apr 12:00</text>
<text x="1414" y="779.8" font-size="9.8" fill="#000" stroke="#000" stroke-width="0.2" textLength="52.52" lengthAdjust="spacingAndGlyphs" text-rendering="geometricPrecision" font-family="'Liberation Sans', Arial, sans-serif">14 Apr 20:00</text>
<text x="1478" y="779.8" font-size="9.8" fill="#000" stroke="#000" stroke-width="0.2" textLength="52.52" lengthAdjust="spacingAndGlyphs" text-rendering="geometricPrecision" font-family="'Liberation Sans', Arial, sans-serif">16 Apr 04:00</text>
<text x="1542" y="779.8" font-size="9.8" fill="#000" stroke="#000" stroke-width="0.2" textLength="52.52" lengthAdjust="spacingAndGlyphs" text-rendering="geometricPrecision" font-family="'Liberation Sans', Arial, sans-serif">17 Apr 12:00</text>
<text x="1606" y="779.8" font-size="9.8" fill="#000" stroke="#000" stroke-width="0.2" textLength="52.52" lengthAdjust="spacingAndGlyphs" text-rendering="geometricPrecision" font-family="'Liberation Sans', Arial, sans-serif">20 Apr 16:00</text>
<text x="1670" y="779.8" font-size="9.8" fill="#000" stroke="#000" stroke-width="0.2" textLength="54.40" lengthAdjust="spacingAndGlyphs" text-rendering="geometricPrecision" font-family="'Liberation Sans', Arial, sans-serif">21 Apr 21:15</text>
</svg>
</body></html>
